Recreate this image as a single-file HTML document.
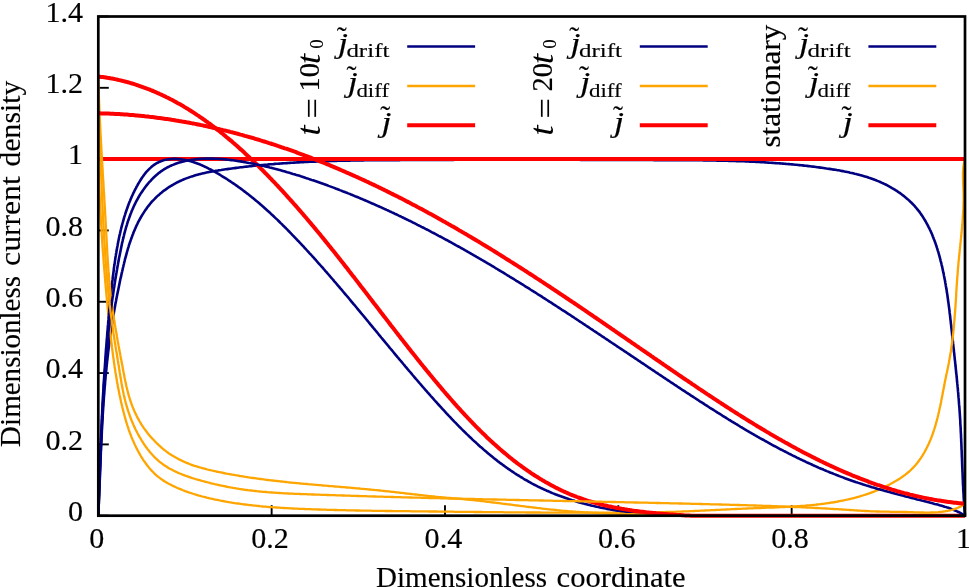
<!DOCTYPE html>
<html><head><meta charset="utf-8"><title>Dimensionless current density</title>
<style>
html,body{margin:0;padding:0;background:#fff;}
svg{display:block;}
text{font-family:"Liberation Serif",serif;font-size:28.5px;fill:#000;stroke:#000;stroke-width:0.15px;}
.it{font-style:italic;}
.sub{font-size:19px;font-style:normal;}
.tl{font-size:30px;}
.itb{font-style:italic;font-size:33px;stroke:none;}
.eq{font-size:31px;}
</style></head><body>
<svg width="969" height="587" viewBox="0 0 969 587">
<rect width="969" height="587" fill="#fff"/>
<g stroke="#000" stroke-width="1.9" fill="none">
<path d="M98.30,515.70 V505.20"/>
<path d="M271.64,515.70 V505.20"/>
<path d="M444.98,515.70 V505.20"/>
<path d="M618.32,515.70 V505.20"/>
<path d="M791.66,515.70 V505.20"/>
<path d="M965.00,515.70 V505.20"/>
<path d="M98.30,515.70 H108.80"/>
<path d="M98.30,444.39 H108.80"/>
<path d="M98.30,373.07 H108.80"/>
<path d="M98.30,301.76 H108.80"/>
<path d="M98.30,230.44 H108.80"/>
<path d="M98.30,159.13 H108.80"/>
<path d="M98.30,87.81 H108.80"/>
<path d="M98.30,16.50 H108.80"/>
</g>
<g fill="none" stroke-linejoin="round" stroke-linecap="butt">
<path d="M98.3,515.7 L98.4,514.2 L98.4,512.7 L98.5,511.2 L98.6,509.7 L98.6,508.2 L98.7,506.7 L98.7,505.2 L98.8,503.7 L98.9,502.2 L98.9,500.7 L99.0,499.2 L99.0,497.7 L99.1,496.2 L99.2,494.7 L99.2,493.2 L99.3,491.8 L99.3,490.3 L99.4,488.8 L99.5,487.3 L99.5,485.8 L99.6,484.3 L99.6,482.8 L99.7,481.3 L99.8,479.8 L99.8,478.3 L99.9,476.8 L99.9,475.3 L100.0,473.8 L100.0,472.3 L100.1,470.8 L100.2,469.3 L100.2,467.8 L100.3,466.3 L100.3,464.8 L100.4,463.3 L100.5,461.8 L100.5,460.3 L100.6,458.8 L100.7,457.3 L100.7,455.8 L100.8,454.3 L100.8,452.8 L100.9,451.3 L101.0,449.8 L101.0,448.3 L101.1,446.8 L101.2,445.3 L101.2,443.8 L101.3,442.3 L101.4,440.8 L101.5,439.3 L101.5,437.8 L101.6,436.3 L101.7,434.8 L101.8,433.3 L101.8,431.8 L101.9,430.3 L102.0,428.8 L102.1,427.3 L102.1,425.8 L102.2,424.3 L102.3,422.8 L102.4,421.3 L102.5,419.8 L102.6,418.3 L102.7,416.8 L102.7,415.3 L102.8,413.8 L102.9,412.3 L103.0,410.8 L103.1,409.3 L103.2,407.8 L103.3,406.3 L103.4,404.8 L103.5,403.3 L103.6,401.8 L103.7,400.3 L103.8,398.8 L103.9,397.3 L104.0,395.8 L104.2,394.3 L104.3,392.8 L104.4,391.3 L104.5,389.8 L104.6,388.3 L104.7,386.9 L104.9,385.4 L105.0,383.9 L105.1,382.4 L105.2,380.9 L105.4,379.4 L105.5,377.9 L105.6,376.4 L105.8,374.9 L105.9,373.4 L106.1,371.9 L106.2,370.4 L106.4,368.9 L106.5,367.4 L106.7,365.9 L106.8,364.5 L107.0,363.0 L107.1,361.5 L107.3,360.0 L107.5,358.5 L107.6,357.0 L107.8,355.5 L108.0,354.0 L108.1,352.5 L108.3,351.0 L108.5,349.6 L108.7,348.1 L108.9,346.6 L109.0,345.1 L109.2,343.6 L109.4,342.1 L109.6,340.6 L109.8,339.1 L110.0,337.7 L110.2,336.2 L110.4,334.7 L110.6,333.2 L110.9,331.7 L111.1,330.2 L111.3,328.8 L111.5,327.3 L111.7,325.8 L112.0,324.3 L112.2,322.8 L112.4,321.4 L112.7,319.9 L112.9,318.4 L113.2,316.9 L113.4,315.4 L113.7,314.0 L113.9,312.5 L114.2,311.0 L114.4,309.5 L114.7,308.0 L115.0,306.6 L115.2,305.1 L115.5,303.6 L115.8,302.1 L116.1,300.7 L116.3,299.2 L116.6,297.7 L116.9,296.3 L117.2,294.8 L117.5,293.3 L117.8,291.8 L118.1,290.4 L118.4,288.9 L118.7,287.4 L119.0,286.0 L119.3,284.5 L119.6,283.0 L119.9,281.6 L120.2,280.1 L120.5,278.6 L120.9,277.2 L121.2,275.7 L121.5,274.3 L121.8,272.8 L122.2,271.3 L122.5,269.9 L122.8,268.4 L123.2,267.0 L123.5,265.5 L123.9,264.1 L124.2,262.6 L124.6,261.1 L124.9,259.7 L125.3,258.2 L125.7,256.8 L126.1,255.3 L126.5,253.9 L126.9,252.4 L127.3,251.0 L127.7,249.5 L128.1,248.1 L128.6,246.6 L129.0,245.2 L129.5,243.7 L130.0,242.3 L130.5,240.8 L131.0,239.4 L131.5,238.0 L132.0,236.6 L132.5,235.2 L133.1,233.7 L133.6,232.3 L134.2,230.9 L134.8,229.6 L135.4,228.2 L136.0,226.8 L136.6,225.4 L137.3,224.1 L137.9,222.7 L138.6,221.4 L139.3,220.1 L140.0,218.8 L140.8,217.5 L141.5,216.2 L142.3,214.9 L143.1,213.6 L143.9,212.4 L144.7,211.1 L145.5,209.9 L146.4,208.7 L147.2,207.5 L148.1,206.3 L149.1,205.1 L150.0,204.0 L150.9,202.9 L151.9,201.7 L152.9,200.6 L154.0,199.6 L155.0,198.5 L156.1,197.4 L157.1,196.4 L158.2,195.4 L159.4,194.4 L160.5,193.4 L161.7,192.5 L162.8,191.6 L164.0,190.6 L165.2,189.8 L166.5,188.9 L167.7,188.0 L168.9,187.2 L170.2,186.4 L171.5,185.6 L172.8,184.8 L174.1,184.1 L175.4,183.4 L176.7,182.7 L178.0,182.0 L179.4,181.3 L180.7,180.7 L182.1,180.1 L183.5,179.5 L184.9,178.9 L186.3,178.4 L187.7,177.9 L189.1,177.4 L190.5,176.9 L191.9,176.4 L193.3,176.0 L194.7,175.5 L196.2,175.1 L197.6,174.7 L199.1,174.3 L200.5,173.9 L202.0,173.6 L203.4,173.2 L204.9,172.9 L206.4,172.6 L207.9,172.3 L209.3,172.0 L210.8,171.7 L212.3,171.4 L213.8,171.2 L215.3,170.9 L216.8,170.7 L218.3,170.4 L219.8,170.2 L221.2,170.0 L222.7,169.7 L224.2,169.5 L225.7,169.3 L227.2,169.1 L228.7,168.9 L230.2,168.7 L231.7,168.5 L233.2,168.3 L234.7,168.1 L236.2,167.9 L237.7,167.7 L239.2,167.5 L240.7,167.3 L242.1,167.2 L243.6,167.0 L245.1,166.8 L246.6,166.6 L248.1,166.5 L249.6,166.3 L251.1,166.2 L252.6,166.0 L254.1,165.8 L255.6,165.7 L257.0,165.5 L258.5,165.4 L260.0,165.2 L261.5,165.1 L263.0,165.0 L264.5,164.8 L266.0,164.7 L267.5,164.6 L269.0,164.4 L270.5,164.3 L271.9,164.2 L273.4,164.1 L274.9,163.9 L276.4,163.8 L277.9,163.7 L279.4,163.6 L280.9,163.5 L282.4,163.4 L283.9,163.3 L285.4,163.2 L286.9,163.1 L288.4,163.0 L289.9,162.9 L291.3,162.8 L292.8,162.7 L294.3,162.6 L295.8,162.5 L297.3,162.4 L298.8,162.4 L300.3,162.3 L301.8,162.2 L303.3,162.1 L304.8,162.0 L306.3,162.0 L307.8,161.9 L309.3,161.8 L310.8,161.8 L312.3,161.7 L313.8,161.6 L315.3,161.6 L316.8,161.5 L318.3,161.5 L319.8,161.4 L321.3,161.3 L322.8,161.3 L324.3,161.2 L325.8,161.2 L327.3,161.1 L328.8,161.1 L330.2,161.0 L331.7,161.0 L333.2,161.0 L334.7,160.9 L336.2,160.9 L337.7,160.8 L339.2,160.8 L340.7,160.8 L342.2,160.7 L343.7,160.7 L345.2,160.7 L346.7,160.6 L348.2,160.6 L349.7,160.6 L351.2,160.5 L352.7,160.5 L354.2,160.5 L355.7,160.5 L357.2,160.4 L358.7,160.4 L360.2,160.4 L361.7,160.4 L363.2,160.4 L364.7,160.3 L366.2,160.3 L367.7,160.3 L369.2,160.3 L370.7,160.3 L372.2,160.2 L373.7,160.2 L375.2,160.2 L376.7,160.2 L378.2,160.2 L379.7,160.2 L381.2,160.2 L382.7,160.2 L384.2,160.1 L385.7,160.1 L387.3,160.1 L388.8,160.1 L390.3,160.1 L391.8,160.1 L393.3,160.1 L394.8,160.1 L396.3,160.1 L397.8,160.1 L399.3,160.1 L400.8,160.0 L402.3,160.0 L403.8,160.0 L405.3,160.0 L406.8,160.0 L408.3,160.0 L409.8,160.0 L411.3,160.0 L412.8,160.0 L414.3,160.0 L415.8,160.0 L417.3,160.0 L418.8,160.0 L420.3,160.0 L421.8,160.0 L423.3,159.9 L424.8,159.9 L426.3,159.9 L427.8,159.9 L429.3,159.9 L430.8,159.9 L432.3,159.9 L433.8,159.9 L435.3,159.9 L436.8,159.9 L438.3,159.9 L439.8,159.9 L441.3,159.9 L442.8,159.9 L444.3,159.9 L445.8,159.9 L447.3,159.9 L448.8,159.9 L450.3,159.9 L451.8,159.9 L453.3,159.9 L454.8,159.8 L456.3,159.8 L457.8,159.8 L459.3,159.8 L460.8,159.8 L462.3,159.8 L463.8,159.8 L465.3,159.8 L466.8,159.8 L468.3,159.8 L469.8,159.8 L471.3,159.8 L472.8,159.8 L474.3,159.8 L475.8,159.8 L477.3,159.8 L478.8,159.8 L480.3,159.8 L481.8,159.8 L483.3,159.8 L484.8,159.8 L486.3,159.8 L487.8,159.8 L489.3,159.8 L490.8,159.8 L492.3,159.8 L493.8,159.8 L495.3,159.8 L496.8,159.8 L498.3,159.8 L499.8,159.8 L501.3,159.8 L502.8,159.8 L504.3,159.8 L505.8,159.8 L507.3,159.8 L508.8,159.8 L510.3,159.8 L511.8,159.8 L513.3,159.8 L514.8,159.8 L516.3,159.8 L517.8,159.8 L519.3,159.8 L520.8,159.8 L522.3,159.8 L523.8,159.8 L525.3,159.8 L526.9,159.8 L528.4,159.8 L529.9,159.8 L531.4,159.8 L532.9,159.8 L534.4,159.8 L535.9,159.8 L537.4,159.8 L538.9,159.8 L540.4,159.8 L541.9,159.8 L543.4,159.8 L544.9,159.8 L546.4,159.8 L547.9,159.8 L549.4,159.8 L550.9,159.8 L552.4,159.8 L553.9,159.8 L555.4,159.8 L556.9,159.8 L558.4,159.8 L559.9,159.8 L561.4,159.8 L562.9,159.8 L564.4,159.8 L565.9,159.8 L567.4,159.8 L568.9,159.8 L570.4,159.8 L571.9,159.8 L573.4,159.8 L574.9,159.8 L576.4,159.8 L577.9,159.8 L579.4,159.8 L580.9,159.9 L582.4,159.9 L583.9,159.9 L585.4,159.9 L586.9,159.9 L588.4,159.9 L589.9,159.9 L591.3,159.9 L592.8,159.9 L594.3,159.9 L595.8,159.9 L597.3,159.9 L598.8,159.9 L600.3,159.9 L601.8,159.9 L603.3,159.9 L604.8,159.9 L606.3,159.9 L607.8,159.9 L609.3,159.9 L610.8,159.9 L612.3,159.9 L613.8,159.9 L615.3,159.9 L616.8,159.9 L618.3,159.9 L619.8,159.9 L621.3,160.0 L622.8,160.0 L624.3,160.0 L625.8,160.0 L627.3,160.0 L628.8,160.0 L630.3,160.0 L631.8,160.0 L633.3,160.0 L634.8,160.0 L636.3,160.0 L637.8,160.0 L639.3,160.0 L640.8,160.0 L642.3,160.0 L643.8,160.0 L645.3,160.0 L646.8,160.0 L648.3,160.0 L649.8,160.0 L651.3,160.0 L652.8,160.0 L654.3,160.1 L655.8,160.1 L657.3,160.1 L658.8,160.1 L660.3,160.1 L661.8,160.1 L663.3,160.1 L664.8,160.1 L666.3,160.1 L667.8,160.1 L669.3,160.1 L670.8,160.1 L672.3,160.1 L673.8,160.1 L675.3,160.1 L676.8,160.1 L678.3,160.1 L679.8,160.1 L681.3,160.2 L682.7,160.2 L684.2,160.2 L685.7,160.2 L687.2,160.2 L688.7,160.2 L690.2,160.2 L691.7,160.2 L693.2,160.2 L694.7,160.3 L696.2,160.3 L697.7,160.3 L699.2,160.3 L700.7,160.3 L702.2,160.3 L703.7,160.4 L705.2,160.4 L706.7,160.4 L708.2,160.4 L709.7,160.4 L711.2,160.5 L712.7,160.5 L714.2,160.5 L715.7,160.5 L717.2,160.6 L718.7,160.6 L720.2,160.6 L721.7,160.7 L723.2,160.7 L724.7,160.7 L726.2,160.8 L727.7,160.8 L729.1,160.9 L730.6,160.9 L732.1,160.9 L733.6,161.0 L735.1,161.0 L736.6,161.1 L738.1,161.1 L739.6,161.2 L741.1,161.2 L742.6,161.3 L744.1,161.3 L745.6,161.4 L747.1,161.5 L748.6,161.5 L750.1,161.6 L751.6,161.7 L753.1,161.7 L754.6,161.8 L756.1,161.9 L757.6,162.0 L759.1,162.0 L760.6,162.1 L762.1,162.2 L763.6,162.3 L765.1,162.4 L766.6,162.5 L768.1,162.6 L769.6,162.7 L771.0,162.8 L772.5,162.9 L774.0,163.0 L775.5,163.1 L777.0,163.2 L778.5,163.3 L780.0,163.4 L781.5,163.5 L783.0,163.6 L784.5,163.7 L786.0,163.9 L787.5,164.0 L789.0,164.1 L790.5,164.3 L792.0,164.4 L793.5,164.5 L795.0,164.7 L796.5,164.8 L798.0,165.0 L799.5,165.1 L801.0,165.3 L802.5,165.4 L804.0,165.6 L805.5,165.8 L807.0,165.9 L808.5,166.1 L810.0,166.3 L811.5,166.5 L812.9,166.6 L814.4,166.8 L815.9,167.0 L817.4,167.2 L818.9,167.4 L820.4,167.6 L821.9,167.8 L823.4,168.0 L824.9,168.2 L826.4,168.5 L827.9,168.7 L829.4,168.9 L830.9,169.1 L832.4,169.4 L833.9,169.6 L835.4,169.8 L836.9,170.1 L838.4,170.3 L839.9,170.6 L841.4,170.9 L842.8,171.1 L844.3,171.4 L845.8,171.7 L847.3,172.0 L848.8,172.3 L850.2,172.7 L851.7,173.0 L853.2,173.3 L854.6,173.7 L856.1,174.0 L857.6,174.4 L859.0,174.8 L860.5,175.2 L861.9,175.6 L863.3,176.0 L864.8,176.4 L866.2,176.8 L867.6,177.3 L869.0,177.8 L870.5,178.2 L871.9,178.7 L873.3,179.2 L874.7,179.8 L876.0,180.3 L877.4,180.9 L878.8,181.4 L880.2,182.0 L881.5,182.6 L882.9,183.2 L884.2,183.9 L885.6,184.5 L886.9,185.2 L888.2,185.9 L889.5,186.6 L890.8,187.3 L892.1,188.1 L893.4,188.8 L894.7,189.6 L895.9,190.4 L897.2,191.2 L898.4,192.1 L899.7,192.9 L900.9,193.8 L902.1,194.7 L903.3,195.6 L904.4,196.5 L905.6,197.5 L906.7,198.4 L907.9,199.4 L909.0,200.4 L910.1,201.5 L911.2,202.5 L912.2,203.5 L913.3,204.6 L914.3,205.7 L915.3,206.8 L916.3,208.0 L917.2,209.1 L918.2,210.3 L919.1,211.4 L920.0,212.6 L920.8,213.9 L921.7,215.1 L922.5,216.3 L923.3,217.6 L924.1,218.9 L924.9,220.2 L925.7,221.5 L926.4,222.8 L927.1,224.1 L927.8,225.4 L928.5,226.8 L929.2,228.1 L929.8,229.5 L930.5,230.8 L931.1,232.2 L931.7,233.6 L932.3,235.0 L932.8,236.4 L933.4,237.8 L933.9,239.2 L934.5,240.6 L935.0,242.0 L935.5,243.4 L936.0,244.9 L936.5,246.3 L936.9,247.7 L937.4,249.2 L937.8,250.6 L938.3,252.0 L938.7,253.5 L939.1,254.9 L939.5,256.4 L939.9,257.8 L940.3,259.3 L940.6,260.8 L941.0,262.2 L941.4,263.7 L941.7,265.1 L942.1,266.6 L942.4,268.0 L942.7,269.5 L943.0,271.0 L943.3,272.4 L943.7,273.9 L943.9,275.4 L944.2,276.8 L944.5,278.3 L944.8,279.8 L945.1,281.3 L945.3,282.7 L945.6,284.2 L945.8,285.7 L946.1,287.2 L946.3,288.6 L946.6,290.1 L946.8,291.6 L947.0,293.1 L947.3,294.5 L947.5,296.0 L947.7,297.5 L947.9,299.0 L948.1,300.5 L948.3,302.0 L948.5,303.4 L948.7,304.9 L948.9,306.4 L949.1,307.9 L949.3,309.4 L949.5,310.9 L949.6,312.4 L949.8,313.9 L950.0,315.3 L950.2,316.8 L950.3,318.3 L950.5,319.8 L950.7,321.3 L950.8,322.8 L951.0,324.3 L951.2,325.8 L951.3,327.3 L951.5,328.8 L951.7,330.2 L951.8,331.7 L952.0,333.2 L952.1,334.7 L952.3,336.2 L952.5,337.7 L952.6,339.2 L952.8,340.7 L953.0,342.2 L953.1,343.7 L953.3,345.2 L953.4,346.6 L953.6,348.1 L953.8,349.6 L953.9,351.1 L954.1,352.6 L954.3,354.1 L954.4,355.6 L954.6,357.1 L954.7,358.6 L954.9,360.1 L955.1,361.6 L955.2,363.1 L955.4,364.5 L955.5,366.0 L955.7,367.5 L955.8,369.0 L956.0,370.5 L956.1,372.0 L956.3,373.5 L956.5,375.0 L956.6,376.5 L956.8,378.0 L956.9,379.5 L957.0,381.0 L957.2,382.5 L957.3,383.9 L957.5,385.4 L957.6,386.9 L957.8,388.4 L957.9,389.9 L958.0,391.4 L958.2,392.9 L958.3,394.4 L958.4,395.9 L958.5,397.4 L958.7,398.9 L958.8,400.4 L958.9,401.9 L959.0,403.4 L959.1,404.9 L959.3,406.4 L959.4,407.9 L959.5,409.4 L959.6,410.8 L959.7,412.3 L959.8,413.8 L959.9,415.3 L960.0,416.8 L960.1,418.3 L960.2,419.8 L960.3,421.3 L960.3,422.8 L960.4,424.3 L960.5,425.8 L960.6,427.3 L960.7,428.8 L960.7,430.3 L960.8,431.8 L960.9,433.3 L961.0,434.8 L961.0,436.3 L961.1,437.8 L961.2,439.3 L961.2,440.8 L961.3,442.3 L961.4,443.8 L961.4,445.3 L961.5,446.8 L961.5,448.3 L961.6,449.8 L961.7,451.3 L961.7,452.8 L961.8,454.3 L961.8,455.8 L961.9,457.3 L962.0,458.8 L962.0,460.3 L962.1,461.8 L962.1,463.3 L962.2,464.8 L962.2,466.3 L962.3,467.8 L962.4,469.3 L962.4,470.8 L962.5,472.3 L962.6,473.8 L962.6,475.3 L962.7,476.8 L962.7,478.3 L962.8,479.8 L962.9,481.3 L962.9,482.8 L963.0,484.3 L963.1,485.8 L963.2,487.3 L963.2,488.8 L963.3,490.3 L963.4,491.8 L963.5,493.3 L963.6,494.8 L963.6,496.3 L963.7,497.7 L963.8,499.2 L963.9,500.7 L964.0,502.2 L964.1,503.7 L964.2,505.2 L964.3,506.7 L964.4,508.2 L964.5,509.7 L964.6,511.2 L964.8,512.7 L964.9,514.2 L965.0,515.7" stroke="#000080" stroke-width="2.6"/>
<path d="M98.3,159.1 L98.3,160.6 L98.4,162.1 L98.4,163.6 L98.5,165.1 L98.5,166.6 L98.6,168.1 L98.6,169.6 L98.7,171.1 L98.7,172.6 L98.8,174.1 L98.8,175.6 L98.9,177.1 L98.9,178.6 L99.0,180.1 L99.1,181.6 L99.1,183.1 L99.2,184.6 L99.2,186.1 L99.3,187.6 L99.4,189.1 L99.4,190.6 L99.5,192.1 L99.6,193.6 L99.6,195.1 L99.7,196.5 L99.8,198.0 L99.8,199.5 L99.9,201.0 L100.0,202.5 L100.1,204.0 L100.1,205.5 L100.2,207.0 L100.3,208.5 L100.4,210.0 L100.4,211.5 L100.5,213.0 L100.6,214.5 L100.7,216.0 L100.8,217.5 L100.8,219.0 L100.9,220.5 L101.0,222.0 L101.1,223.5 L101.2,225.0 L101.3,226.5 L101.4,228.0 L101.5,229.5 L101.6,231.0 L101.6,232.5 L101.7,234.0 L101.8,235.5 L101.9,237.0 L102.0,238.5 L102.1,240.0 L102.2,241.5 L102.3,242.9 L102.4,244.4 L102.5,245.9 L102.6,247.4 L102.7,248.9 L102.8,250.4 L102.9,251.9 L103.1,253.4 L103.2,254.9 L103.3,256.4 L103.4,257.9 L103.5,259.4 L103.6,260.9 L103.7,262.4 L103.8,263.9 L104.0,265.4 L104.1,266.9 L104.2,268.4 L104.3,269.9 L104.4,271.4 L104.6,272.8 L104.7,274.3 L104.8,275.8 L104.9,277.3 L105.1,278.8 L105.2,280.3 L105.3,281.8 L105.4,283.3 L105.6,284.8 L105.7,286.3 L105.8,287.8 L106.0,289.3 L106.1,290.8 L106.2,292.3 L106.4,293.8 L106.5,295.3 L106.6,296.7 L106.8,298.2 L106.9,299.7 L107.1,301.2 L107.2,302.7 L107.4,304.2 L107.5,305.7 L107.6,307.2 L107.8,308.7 L107.9,310.2 L108.1,311.7 L108.2,313.2 L108.4,314.6 L108.5,316.1 L108.7,317.6 L108.9,319.1 L109.0,320.6 L109.2,322.1 L109.3,323.6 L109.5,325.1 L109.6,326.6 L109.8,328.1 L110.0,329.6 L110.1,331.0 L110.3,332.5 L110.5,334.0 L110.6,335.5 L110.8,337.0 L111.0,338.5 L111.1,340.0 L111.3,341.5 L111.5,343.0 L111.7,344.5 L111.9,345.9 L112.0,347.4 L112.2,348.9 L112.4,350.4 L112.6,351.9 L112.8,353.4 L113.0,354.9 L113.2,356.3 L113.4,357.8 L113.6,359.3 L113.8,360.8 L114.0,362.3 L114.2,363.8 L114.4,365.2 L114.6,366.7 L114.9,368.2 L115.1,369.7 L115.3,371.2 L115.5,372.7 L115.8,374.1 L116.0,375.6 L116.3,377.1 L116.5,378.6 L116.8,380.0 L117.0,381.5 L117.3,383.0 L117.6,384.5 L117.8,385.9 L118.1,387.4 L118.4,388.9 L118.7,390.4 L119.0,391.8 L119.2,393.3 L119.5,394.8 L119.9,396.2 L120.2,397.7 L120.5,399.2 L120.8,400.6 L121.1,402.1 L121.5,403.6 L121.8,405.0 L122.1,406.5 L122.5,407.9 L122.9,409.4 L123.2,410.9 L123.6,412.3 L124.0,413.8 L124.4,415.2 L124.8,416.7 L125.2,418.1 L125.6,419.6 L126.0,421.0 L126.4,422.4 L126.9,423.9 L127.3,425.3 L127.8,426.7 L128.3,428.2 L128.7,429.6 L129.2,431.0 L129.7,432.4 L130.3,433.8 L130.8,435.2 L131.3,436.6 L131.9,438.0 L132.5,439.4 L133.1,440.7 L133.7,442.1 L134.3,443.5 L134.9,444.8 L135.6,446.2 L136.2,447.5 L136.9,448.9 L137.6,450.2 L138.3,451.5 L139.0,452.9 L139.8,454.2 L140.5,455.5 L141.3,456.8 L142.1,458.0 L142.9,459.3 L143.7,460.6 L144.6,461.8 L145.5,463.0 L146.4,464.3 L147.3,465.5 L148.2,466.6 L149.1,467.8 L150.1,468.9 L151.1,470.1 L152.1,471.1 L153.2,472.2 L154.2,473.3 L155.3,474.3 L156.4,475.3 L157.6,476.3 L158.7,477.2 L159.9,478.1 L161.1,479.0 L162.3,479.8 L163.6,480.7 L164.8,481.5 L166.1,482.2 L167.4,483.0 L168.7,483.7 L170.1,484.4 L171.4,485.1 L172.7,485.7 L174.1,486.4 L175.4,487.0 L176.8,487.7 L178.2,488.3 L179.6,488.8 L181.0,489.4 L182.3,490.0 L183.7,490.5 L185.1,491.1 L186.6,491.6 L188.0,492.1 L189.4,492.6 L190.8,493.0 L192.2,493.5 L193.7,494.0 L195.1,494.4 L196.6,494.8 L198.0,495.3 L199.4,495.7 L200.9,496.1 L202.4,496.5 L203.8,496.8 L205.3,497.2 L206.7,497.6 L208.2,497.9 L209.7,498.3 L211.1,498.6 L212.6,498.9 L214.1,499.3 L215.5,499.6 L217.0,499.9 L218.5,500.2 L219.9,500.5 L221.4,500.8 L222.9,501.0 L224.4,501.3 L225.8,501.6 L227.3,501.8 L228.8,502.1 L230.3,502.3 L231.7,502.6 L233.2,502.8 L234.7,503.1 L236.2,503.3 L237.7,503.5 L239.1,503.7 L240.6,503.9 L242.1,504.1 L243.6,504.3 L245.1,504.5 L246.6,504.7 L248.0,504.9 L249.5,505.1 L251.0,505.2 L252.5,505.4 L254.0,505.6 L255.5,505.7 L257.0,505.9 L258.5,506.0 L260.0,506.2 L261.4,506.3 L262.9,506.5 L264.4,506.6 L265.9,506.7 L267.4,506.8 L268.9,507.0 L270.4,507.1 L271.9,507.2 L273.4,507.3 L274.9,507.4 L276.4,507.5 L277.9,507.6 L279.4,507.7 L280.9,507.8 L282.3,507.9 L283.8,508.0 L285.3,508.1 L286.8,508.2 L288.3,508.2 L289.8,508.3 L291.3,508.4 L292.8,508.5 L294.3,508.6 L295.8,508.6 L297.3,508.7 L298.8,508.8 L300.3,508.8 L301.8,508.9 L303.3,508.9 L304.8,509.0 L306.3,509.1 L307.8,509.1 L309.3,509.2 L310.8,509.2 L312.3,509.3 L313.8,509.3 L315.3,509.4 L316.8,509.4 L318.3,509.5 L319.8,509.5 L321.3,509.6 L322.8,509.6 L324.3,509.7 L325.8,509.7 L327.3,509.8 L328.8,509.8 L330.3,509.9 L331.8,509.9 L333.3,509.9 L334.8,510.0 L336.3,510.0 L337.8,510.1 L339.3,510.1 L340.8,510.1 L342.3,510.2 L343.8,510.2 L345.3,510.2 L346.8,510.3 L348.3,510.3 L349.8,510.3 L351.3,510.4 L352.8,510.4 L354.3,510.4 L355.8,510.5 L357.3,510.5 L358.8,510.5 L360.3,510.6 L361.8,510.6 L363.3,510.6 L364.8,510.6 L366.3,510.7 L367.8,510.7 L369.3,510.7 L370.8,510.7 L372.3,510.8 L373.8,510.8 L375.3,510.8 L376.8,510.8 L378.3,510.8 L379.8,510.9 L381.3,510.9 L382.7,510.9 L384.2,510.9 L385.7,511.0 L387.2,511.0 L388.7,511.0 L390.2,511.0 L391.7,511.0 L393.2,511.1 L394.7,511.1 L396.2,511.1 L397.7,511.1 L399.2,511.1 L400.7,511.1 L402.2,511.2 L403.7,511.2 L405.2,511.2 L406.7,511.2 L408.2,511.2 L409.7,511.2 L411.2,511.3 L412.7,511.3 L414.2,511.3 L415.7,511.3 L417.2,511.3 L418.7,511.3 L420.2,511.4 L421.7,511.4 L423.2,511.4 L424.7,511.4 L426.2,511.4 L427.7,511.4 L429.2,511.5 L430.7,511.5 L432.2,511.5 L433.7,511.5 L435.2,511.5 L436.7,511.5 L438.2,511.6 L439.7,511.6 L441.2,511.6 L442.7,511.6 L444.2,511.6 L445.7,511.7 L447.2,511.7 L448.7,511.7 L450.2,511.7 L451.7,511.7 L453.2,511.7 L454.7,511.8 L456.2,511.8 L457.7,511.8 L459.2,511.8 L460.7,511.8 L462.2,511.8 L463.7,511.9 L465.2,511.9 L466.7,511.9 L468.2,511.9 L469.7,511.9 L471.2,511.9 L472.7,511.9 L474.2,512.0 L475.7,512.0 L477.2,512.0 L478.7,512.0 L480.2,512.0 L481.7,512.0 L483.2,512.1 L484.7,512.1 L486.2,512.1 L487.7,512.1 L489.2,512.1 L490.7,512.1 L492.2,512.1 L493.7,512.2 L495.2,512.2 L496.7,512.2 L498.2,512.2 L499.7,512.2 L501.2,512.2 L502.7,512.2 L504.2,512.3 L505.7,512.3 L507.2,512.3 L508.7,512.3 L510.2,512.3 L511.6,512.3 L513.1,512.3 L514.6,512.4 L516.1,512.4 L517.6,512.4 L519.1,512.4 L520.6,512.4 L522.1,512.4 L523.6,512.4 L525.1,512.4 L526.6,512.5 L528.1,512.5 L529.6,512.5 L531.1,512.5 L532.6,512.5 L534.1,512.5 L535.6,512.5 L537.1,512.5 L538.6,512.5 L540.1,512.5 L541.6,512.6 L543.1,512.6 L544.6,512.6 L546.1,512.6 L547.6,512.6 L549.1,512.6 L550.6,512.6 L552.1,512.6 L553.6,512.6 L555.1,512.6 L556.6,512.6 L558.1,512.7 L559.6,512.7 L561.1,512.7 L562.6,512.7 L564.1,512.7 L565.6,512.7 L567.1,512.7 L568.6,512.7 L570.1,512.7 L571.6,512.7 L573.1,512.7 L574.6,512.7 L576.1,512.7 L577.6,512.7 L579.1,512.7 L580.6,512.7 L582.1,512.7 L583.6,512.7 L585.1,512.7 L586.6,512.7 L588.1,512.7 L589.6,512.7 L591.1,512.7 L592.6,512.7 L594.1,512.7 L595.6,512.7 L597.1,512.7 L598.6,512.7 L600.1,512.7 L601.6,512.7 L603.1,512.7 L604.6,512.7 L606.1,512.7 L607.6,512.7 L609.1,512.7 L610.6,512.7 L612.1,512.7 L613.6,512.7 L615.1,512.7 L616.6,512.7 L618.1,512.7 L619.6,512.7 L621.1,512.7 L622.6,512.7 L624.1,512.7 L625.6,512.7 L627.1,512.7 L628.6,512.6 L630.1,512.6 L631.6,512.6 L633.1,512.6 L634.6,512.6 L636.1,512.6 L637.6,512.6 L639.1,512.5 L640.6,512.5 L642.1,512.5 L643.6,512.5 L645.1,512.5 L646.6,512.4 L648.1,512.4 L649.6,512.4 L651.1,512.4 L652.6,512.3 L654.1,512.3 L655.6,512.3 L657.1,512.3 L658.6,512.2 L660.1,512.2 L661.6,512.2 L663.1,512.1 L664.6,512.1 L666.1,512.0 L667.6,512.0 L669.1,512.0 L670.6,511.9 L672.1,511.9 L673.6,511.8 L675.0,511.8 L676.5,511.7 L678.0,511.7 L679.5,511.6 L681.0,511.6 L682.5,511.5 L684.0,511.4 L685.5,511.4 L687.0,511.3 L688.5,511.3 L690.0,511.2 L691.5,511.1 L693.0,511.1 L694.5,511.0 L696.0,510.9 L697.5,510.9 L699.0,510.8 L700.5,510.7 L702.0,510.7 L703.5,510.6 L705.0,510.5 L706.5,510.4 L708.0,510.4 L709.5,510.3 L711.0,510.2 L712.5,510.2 L714.0,510.1 L715.4,510.0 L716.9,509.9 L718.4,509.9 L719.9,509.8 L721.4,509.7 L722.9,509.6 L724.4,509.6 L725.9,509.5 L727.4,509.4 L728.9,509.3 L730.4,509.3 L731.9,509.2 L733.4,509.1 L734.9,509.0 L736.4,509.0 L737.9,508.9 L739.4,508.8 L740.9,508.8 L742.4,508.7 L743.9,508.6 L745.4,508.6 L746.9,508.5 L748.4,508.4 L749.9,508.4 L751.4,508.3 L752.9,508.3 L754.4,508.2 L755.9,508.1 L757.4,508.1 L758.9,508.0 L760.4,508.0 L761.9,507.9 L763.4,507.9 L764.9,507.8 L766.4,507.7 L767.9,507.7 L769.4,507.6 L770.9,507.6 L772.4,507.5 L773.9,507.5 L775.4,507.4 L776.9,507.3 L778.4,507.3 L779.9,507.2 L781.4,507.1 L782.9,507.1 L784.4,507.0 L785.9,506.9 L787.4,506.8 L788.9,506.8 L790.4,506.7 L791.9,506.6 L793.4,506.5 L794.9,506.4 L796.4,506.3 L797.9,506.2 L799.4,506.1 L800.9,506.0 L802.4,505.9 L803.9,505.8 L805.4,505.7 L806.8,505.5 L808.3,505.4 L809.8,505.3 L811.3,505.1 L812.8,505.0 L814.3,504.8 L815.8,504.7 L817.3,504.5 L818.8,504.3 L820.2,504.2 L821.7,504.0 L823.2,503.8 L824.7,503.6 L826.2,503.4 L827.7,503.2 L829.1,503.0 L830.6,502.7 L832.1,502.5 L833.6,502.3 L835.1,502.0 L836.5,501.8 L838.0,501.5 L839.5,501.2 L840.9,500.9 L842.4,500.6 L843.9,500.3 L845.3,500.0 L846.8,499.7 L848.3,499.4 L849.7,499.0 L851.2,498.7 L852.6,498.3 L854.1,498.0 L855.5,497.6 L857.0,497.2 L858.4,496.8 L859.8,496.4 L861.3,495.9 L862.7,495.5 L864.1,495.0 L865.5,494.6 L867.0,494.1 L868.4,493.6 L869.8,493.1 L871.2,492.6 L872.6,492.1 L874.0,491.6 L875.4,491.0 L876.8,490.4 L878.2,489.9 L879.6,489.3 L881.0,488.7 L882.3,488.0 L883.7,487.4 L885.1,486.8 L886.4,486.1 L887.8,485.4 L889.1,484.7 L890.5,484.0 L891.8,483.3 L893.1,482.6 L894.4,481.8 L895.7,481.1 L897.0,480.3 L898.3,479.5 L899.6,478.7 L900.8,477.9 L902.1,477.0 L903.3,476.1 L904.5,475.3 L905.7,474.4 L906.9,473.4 L908.0,472.5 L909.2,471.5 L910.3,470.5 L911.3,469.5 L912.4,468.4 L913.4,467.4 L914.4,466.3 L915.4,465.2 L916.4,464.0 L917.3,462.9 L918.2,461.7 L919.1,460.5 L919.9,459.3 L920.8,458.1 L921.6,456.8 L922.4,455.6 L923.2,454.3 L924.0,453.0 L924.7,451.7 L925.4,450.4 L926.1,449.1 L926.8,447.7 L927.5,446.4 L928.1,445.0 L928.8,443.7 L929.4,442.3 L930.0,440.9 L930.6,439.5 L931.1,438.1 L931.7,436.7 L932.2,435.3 L932.7,433.8 L933.2,432.4 L933.7,431.0 L934.2,429.5 L934.6,428.1 L935.1,426.7 L935.5,425.2 L935.9,423.8 L936.3,422.3 L936.7,420.9 L937.1,419.4 L937.5,418.0 L937.8,416.5 L938.2,415.1 L938.5,413.6 L938.9,412.1 L939.2,410.7 L939.5,409.2 L939.8,407.8 L940.2,406.3 L940.5,404.8 L940.8,403.4 L941.1,401.9 L941.3,400.4 L941.6,399.0 L941.9,397.5 L942.2,396.0 L942.5,394.6 L942.8,393.1 L943.0,391.6 L943.3,390.2 L943.6,388.7 L943.9,387.2 L944.2,385.7 L944.5,384.3 L944.7,382.8 L945.0,381.3 L945.3,379.9 L945.6,378.4 L945.9,376.9 L946.2,375.4 L946.5,374.0 L946.9,372.5 L947.2,371.0 L947.5,369.6 L947.8,368.1 L948.1,366.6 L948.4,365.2 L948.7,363.7 L949.0,362.2 L949.2,360.7 L949.5,359.3 L949.8,357.8 L950.0,356.3 L950.3,354.8 L950.5,353.4 L950.8,351.9 L951.0,350.4 L951.2,348.9 L951.4,347.4 L951.6,346.0 L951.9,344.5 L952.0,343.0 L952.2,341.5 L952.4,340.0 L952.6,338.5 L952.8,337.0 L952.9,335.6 L953.1,334.1 L953.3,332.6 L953.4,331.1 L953.6,329.6 L953.7,328.1 L953.9,326.6 L954.0,325.1 L954.1,323.6 L954.2,322.1 L954.4,320.6 L954.5,319.2 L954.6,317.7 L954.7,316.2 L954.8,314.7 L955.0,313.2 L955.1,311.7 L955.2,310.2 L955.3,308.7 L955.4,307.2 L955.5,305.7 L955.6,304.2 L955.7,302.7 L955.8,301.2 L955.9,299.7 L956.0,298.2 L956.1,296.7 L956.2,295.2 L956.2,293.7 L956.3,292.2 L956.4,290.7 L956.5,289.2 L956.6,287.7 L956.7,286.2 L956.8,284.7 L956.9,283.2 L957.0,281.7 L957.1,280.2 L957.2,278.7 L957.3,277.2 L957.4,275.7 L957.6,274.3 L957.7,272.8 L957.8,271.3 L957.9,269.8 L958.0,268.3 L958.1,266.8 L958.3,265.3 L958.4,263.8 L958.5,262.3 L958.7,260.8 L958.8,259.3 L959.0,257.8 L959.1,256.3 L959.3,254.8 L959.4,253.4 L959.6,251.9 L959.7,250.4 L959.9,248.9 L960.0,247.4 L960.2,245.9 L960.3,244.4 L960.5,242.9 L960.7,241.4 L960.8,239.9 L961.0,238.4 L961.1,237.0 L961.3,235.5 L961.4,234.0 L961.6,232.5 L961.7,231.0 L961.9,229.5 L962.0,228.0 L962.1,226.5 L962.3,225.0 L962.4,223.5 L962.5,222.0 L962.6,220.6 L962.7,219.1 L962.8,217.6 L962.9,216.1 L963.0,214.6 L963.1,213.1 L963.2,211.6 L963.3,210.1 L963.4,208.6 L963.4,207.1 L963.5,205.6 L963.5,204.1 L963.5,202.6 L963.6,201.1 L963.6,199.6 L963.6,198.1 L963.6,196.6 L963.6,195.1 L963.6,193.6 L963.5,192.1 L963.5,190.6 L963.4,189.0 L963.4,187.5 L963.3,186.0 L963.2,184.5 L963.2,183.0 L963.1,181.5 L963.1,180.0 L963.0,178.5 L963.0,177.0 L963.0,175.5 L963.0,173.9 L963.0,172.4 L963.1,170.9 L963.2,169.5 L963.3,168.0 L963.5,166.5 L963.7,165.0 L963.9,163.5 L964.2,162.0 L964.6,160.6 L965.0,159.1" stroke="#ffa500" stroke-width="2.3"/>
<path d="M98.3,159.1 L965.0,159.1" stroke="#ff0000" stroke-width="4.0"/>
<path d="M98.3,515.7 L98.3,514.2 L98.4,512.7 L98.4,511.2 L98.5,509.7 L98.5,508.2 L98.6,506.7 L98.6,505.2 L98.7,503.7 L98.7,502.2 L98.7,500.7 L98.8,499.2 L98.8,497.7 L98.9,496.2 L98.9,494.7 L99.0,493.2 L99.0,491.7 L99.1,490.2 L99.1,488.7 L99.2,487.3 L99.2,485.8 L99.3,484.3 L99.3,482.8 L99.4,481.3 L99.4,479.8 L99.5,478.3 L99.5,476.8 L99.6,475.3 L99.6,473.8 L99.7,472.3 L99.7,470.8 L99.8,469.3 L99.8,467.8 L99.9,466.3 L99.9,464.8 L100.0,463.3 L100.0,461.8 L100.1,460.3 L100.2,458.8 L100.2,457.3 L100.3,455.8 L100.3,454.3 L100.4,452.8 L100.4,451.3 L100.5,449.8 L100.6,448.3 L100.6,446.8 L100.7,445.3 L100.7,443.8 L100.8,442.3 L100.9,440.8 L100.9,439.3 L101.0,437.8 L101.1,436.3 L101.1,434.8 L101.2,433.3 L101.3,431.8 L101.3,430.3 L101.4,428.8 L101.5,427.4 L101.5,425.9 L101.6,424.4 L101.7,422.9 L101.7,421.4 L101.8,419.9 L101.9,418.4 L101.9,416.9 L102.0,415.4 L102.1,413.9 L102.2,412.4 L102.2,410.9 L102.3,409.4 L102.4,407.9 L102.5,406.4 L102.5,404.9 L102.6,403.4 L102.7,401.9 L102.8,400.4 L102.9,398.9 L102.9,397.4 L103.0,395.9 L103.1,394.4 L103.2,392.9 L103.3,391.4 L103.4,389.9 L103.5,388.4 L103.5,386.9 L103.6,385.4 L103.7,383.9 L103.8,382.5 L103.9,381.0 L104.0,379.5 L104.1,378.0 L104.2,376.5 L104.3,375.0 L104.4,373.5 L104.5,372.0 L104.6,370.5 L104.7,369.0 L104.8,367.5 L104.9,366.0 L105.0,364.5 L105.1,363.0 L105.2,361.5 L105.3,360.0 L105.4,358.5 L105.5,357.0 L105.6,355.5 L105.7,354.0 L105.8,352.5 L105.9,351.1 L106.0,349.6 L106.1,348.1 L106.3,346.6 L106.4,345.1 L106.5,343.6 L106.6,342.1 L106.7,340.6 L106.8,339.1 L107.0,337.6 L107.1,336.1 L107.2,334.6 L107.3,333.1 L107.4,331.6 L107.6,330.1 L107.7,328.6 L107.8,327.2 L107.9,325.7 L108.1,324.2 L108.2,322.7 L108.3,321.2 L108.5,319.7 L108.6,318.2 L108.7,316.7 L108.9,315.2 L109.0,313.7 L109.2,312.2 L109.3,310.7 L109.4,309.2 L109.6,307.8 L109.7,306.3 L109.9,304.8 L110.0,303.3 L110.2,301.8 L110.3,300.3 L110.5,298.8 L110.6,297.3 L110.8,295.8 L110.9,294.3 L111.1,292.8 L111.2,291.4 L111.4,289.9 L111.6,288.4 L111.7,286.9 L111.9,285.4 L112.0,283.9 L112.2,282.4 L112.4,280.9 L112.6,279.4 L112.7,278.0 L112.9,276.5 L113.1,275.0 L113.3,273.5 L113.5,272.0 L113.7,270.5 L113.8,269.0 L114.0,267.6 L114.2,266.1 L114.5,264.6 L114.7,263.1 L114.9,261.6 L115.1,260.1 L115.3,258.7 L115.5,257.2 L115.8,255.7 L116.0,254.2 L116.3,252.7 L116.5,251.3 L116.8,249.8 L117.0,248.3 L117.3,246.9 L117.6,245.4 L117.8,243.9 L118.1,242.4 L118.4,241.0 L118.7,239.5 L119.0,238.0 L119.3,236.6 L119.6,235.1 L120.0,233.6 L120.3,232.2 L120.6,230.7 L121.0,229.3 L121.3,227.8 L121.7,226.4 L122.1,224.9 L122.5,223.5 L122.9,222.0 L123.3,220.6 L123.7,219.1 L124.1,217.7 L124.5,216.3 L125.0,214.8 L125.4,213.4 L125.9,212.0 L126.4,210.5 L126.9,209.1 L127.4,207.7 L127.9,206.3 L128.4,204.9 L128.9,203.5 L129.5,202.1 L130.1,200.7 L130.6,199.3 L131.2,197.9 L131.8,196.5 L132.5,195.1 L133.1,193.7 L133.8,192.4 L134.4,191.0 L135.1,189.6 L135.8,188.3 L136.5,186.9 L137.3,185.6 L138.0,184.2 L138.8,182.9 L139.6,181.6 L140.4,180.3 L141.2,179.0 L142.0,177.7 L142.9,176.5 L143.8,175.2 L144.7,174.0 L145.6,172.9 L146.6,171.7 L147.6,170.7 L148.6,169.6 L149.6,168.6 L150.7,167.6 L151.7,166.6 L152.9,165.7 L154.0,164.9 L155.2,164.1 L156.4,163.4 L157.6,162.7 L158.9,162.1 L160.2,161.5 L161.5,161.0 L162.9,160.5 L164.3,160.1 L165.7,159.8 L167.2,159.5 L168.6,159.3 L170.1,159.1 L171.6,159.0 L173.1,158.9 L174.6,158.9 L176.1,158.9 L177.6,159.0 L179.1,159.1 L180.6,159.3 L182.1,159.5 L183.6,159.7 L185.1,159.9 L186.6,160.2 L188.0,160.6 L189.5,160.9 L190.9,161.3 L192.4,161.8 L193.8,162.2 L195.2,162.7 L196.7,163.2 L198.1,163.8 L199.5,164.3 L200.9,164.9 L202.3,165.5 L203.7,166.1 L205.0,166.8 L206.4,167.4 L207.8,168.1 L209.1,168.8 L210.5,169.5 L211.8,170.2 L213.2,170.9 L214.5,171.7 L215.8,172.4 L217.1,173.2 L218.4,173.9 L219.7,174.7 L221.0,175.5 L222.3,176.3 L223.6,177.1 L224.9,177.9 L226.2,178.7 L227.5,179.5 L228.7,180.3 L230.0,181.1 L231.2,182.0 L232.5,182.8 L233.7,183.6 L235.0,184.5 L236.2,185.4 L237.4,186.2 L238.6,187.1 L239.9,188.0 L241.1,188.9 L242.3,189.8 L243.5,190.7 L244.7,191.6 L245.9,192.5 L247.0,193.4 L248.2,194.3 L249.4,195.2 L250.6,196.2 L251.7,197.1 L252.9,198.0 L254.1,199.0 L255.2,199.9 L256.4,200.9 L257.5,201.9 L258.7,202.8 L259.8,203.8 L260.9,204.8 L262.1,205.8 L263.2,206.7 L264.3,207.7 L265.4,208.7 L266.5,209.7 L267.6,210.7 L268.8,211.7 L269.9,212.7 L271.0,213.8 L272.0,214.8 L273.1,215.8 L274.2,216.8 L275.3,217.9 L276.4,218.9 L277.5,219.9 L278.6,221.0 L279.6,222.0 L280.7,223.1 L281.8,224.1 L282.8,225.2 L283.9,226.2 L284.9,227.3 L286.0,228.3 L287.1,229.4 L288.1,230.5 L289.1,231.5 L290.2,232.6 L291.2,233.7 L292.3,234.8 L293.3,235.8 L294.3,236.9 L295.4,238.0 L296.4,239.1 L297.4,240.2 L298.5,241.2 L299.5,242.3 L300.5,243.4 L301.5,244.5 L302.6,245.6 L303.6,246.7 L304.6,247.8 L305.6,248.9 L306.6,250.0 L307.6,251.1 L308.6,252.2 L309.6,253.3 L310.7,254.4 L311.7,255.5 L312.7,256.6 L313.7,257.7 L314.7,258.8 L315.7,259.9 L316.6,261.0 L317.6,262.2 L318.6,263.3 L319.6,264.4 L320.6,265.5 L321.6,266.6 L322.6,267.7 L323.6,268.9 L324.6,270.0 L325.5,271.1 L326.5,272.2 L327.5,273.4 L328.5,274.5 L329.5,275.6 L330.4,276.7 L331.4,277.9 L332.4,279.0 L333.4,280.1 L334.3,281.3 L335.3,282.4 L336.3,283.5 L337.2,284.7 L338.2,285.8 L339.2,286.9 L340.1,288.1 L341.1,289.2 L342.1,290.3 L343.0,291.5 L344.0,292.6 L345.0,293.8 L345.9,294.9 L346.9,296.0 L347.9,297.2 L348.8,298.3 L349.8,299.5 L350.7,300.6 L351.7,301.8 L352.6,302.9 L353.6,304.1 L354.6,305.2 L355.5,306.3 L356.5,307.5 L357.4,308.6 L358.4,309.8 L359.3,310.9 L360.3,312.1 L361.2,313.2 L362.2,314.4 L363.2,315.5 L364.1,316.7 L365.1,317.8 L366.0,319.0 L367.0,320.2 L367.9,321.3 L368.9,322.5 L369.8,323.6 L370.8,324.8 L371.7,325.9 L372.7,327.1 L373.6,328.2 L374.6,329.4 L375.5,330.5 L376.5,331.7 L377.4,332.8 L378.4,334.0 L379.3,335.2 L380.3,336.3 L381.2,337.5 L382.2,338.6 L383.2,339.8 L384.1,340.9 L385.1,342.1 L386.0,343.2 L387.0,344.4 L387.9,345.5 L388.9,346.7 L389.8,347.9 L390.8,349.0 L391.8,350.2 L392.7,351.3 L393.7,352.5 L394.6,353.6 L395.6,354.8 L396.5,355.9 L397.5,357.1 L398.5,358.2 L399.4,359.4 L400.4,360.5 L401.4,361.7 L402.3,362.8 L403.3,364.0 L404.3,365.1 L405.2,366.3 L406.2,367.4 L407.2,368.6 L408.1,369.7 L409.1,370.9 L410.1,372.0 L411.1,373.2 L412.0,374.3 L413.0,375.5 L414.0,376.6 L415.0,377.8 L415.9,378.9 L416.9,380.0 L417.9,381.2 L418.9,382.3 L419.9,383.5 L420.9,384.6 L421.8,385.7 L422.8,386.9 L423.8,388.0 L424.8,389.2 L425.8,390.3 L426.8,391.4 L427.8,392.6 L428.8,393.7 L429.8,394.8 L430.8,396.0 L431.8,397.1 L432.8,398.2 L433.8,399.3 L434.8,400.5 L435.8,401.6 L436.8,402.7 L437.8,403.8 L438.9,405.0 L439.9,406.1 L440.9,407.2 L441.9,408.3 L442.9,409.4 L444.0,410.5 L445.0,411.7 L446.0,412.8 L447.0,413.9 L448.1,415.0 L449.1,416.1 L450.2,417.2 L451.2,418.3 L452.2,419.4 L453.3,420.5 L454.3,421.6 L455.4,422.6 L456.4,423.7 L457.5,424.8 L458.5,425.9 L459.6,427.0 L460.7,428.0 L461.7,429.1 L462.8,430.2 L463.9,431.2 L464.9,432.3 L466.0,433.3 L467.1,434.4 L468.2,435.4 L469.3,436.5 L470.4,437.5 L471.5,438.5 L472.5,439.6 L473.6,440.6 L474.7,441.6 L475.9,442.6 L477.0,443.6 L478.1,444.7 L479.2,445.7 L480.3,446.7 L481.4,447.6 L482.6,448.6 L483.7,449.6 L484.8,450.6 L486.0,451.6 L487.1,452.5 L488.2,453.5 L489.4,454.4 L490.5,455.4 L491.7,456.3 L492.9,457.3 L494.0,458.2 L495.2,459.1 L496.4,460.0 L497.5,461.0 L498.7,461.9 L499.9,462.8 L501.1,463.6 L502.3,464.5 L503.5,465.4 L504.7,466.3 L505.9,467.2 L507.1,468.0 L508.3,468.9 L509.5,469.7 L510.7,470.5 L512.0,471.4 L513.2,472.2 L514.4,473.0 L515.7,473.8 L516.9,474.6 L518.2,475.4 L519.4,476.2 L520.7,477.0 L522.0,477.7 L523.2,478.5 L524.5,479.3 L525.8,480.0 L527.1,480.7 L528.3,481.5 L529.6,482.2 L530.9,482.9 L532.2,483.6 L533.6,484.3 L534.9,485.0 L536.2,485.6 L537.5,486.3 L538.9,487.0 L540.2,487.6 L541.5,488.3 L542.9,488.9 L544.2,489.5 L545.6,490.1 L546.9,490.7 L548.3,491.3 L549.7,491.9 L551.0,492.5 L552.4,493.1 L553.8,493.6 L555.2,494.2 L556.6,494.7 L558.0,495.3 L559.4,495.8 L560.8,496.3 L562.2,496.8 L563.6,497.3 L565.0,497.8 L566.4,498.3 L567.8,498.8 L569.2,499.3 L570.7,499.7 L572.1,500.2 L573.5,500.6 L575.0,501.1 L576.4,501.5 L577.8,501.9 L579.3,502.4 L580.7,502.8 L582.2,503.2 L583.6,503.6 L585.1,503.9 L586.5,504.3 L588.0,504.7 L589.5,505.1 L590.9,505.4 L592.4,505.8 L593.9,506.1 L595.3,506.4 L596.8,506.8 L598.3,507.1 L599.8,507.4 L601.2,507.7 L602.7,508.0 L604.2,508.3 L605.7,508.6 L607.1,508.9 L608.6,509.1 L610.1,509.4 L611.6,509.7 L613.1,509.9 L614.6,510.2 L616.1,510.4 L617.6,510.6 L619.0,510.8 L620.5,511.1 L622.0,511.3 L623.5,511.5 L625.0,511.7 L626.5,511.9 L628.0,512.0 L629.5,512.2 L631.0,512.4 L632.5,512.6 L634.0,512.7 L635.5,512.9 L637.0,513.0 L638.5,513.1 L640.0,513.3 L641.5,513.4 L642.9,513.5 L644.4,513.6 L645.9,513.8 L647.4,513.9 L648.9,514.0 L650.4,514.1 L651.9,514.2 L653.4,514.2 L654.9,514.3 L656.4,514.4 L657.9,514.5 L659.4,514.5 L660.9,514.6 L662.4,514.7 L663.9,514.7 L665.4,514.8 L666.9,514.8 L668.4,514.9 L669.9,514.9 L671.3,514.9 L672.8,515.0 L674.3,515.0 L675.8,515.0 L677.3,515.1 L678.8,515.1 L680.3,515.1 L681.8,515.1 L683.3,515.2 L684.8,515.2 L686.3,515.2 L687.8,515.2 L689.3,515.3 L690.8,515.3 L692.3,515.3 L693.8,515.3 L695.3,515.3 L696.8,515.3 L698.3,515.3 L699.8,515.3 L701.3,515.3 L702.8,515.4 L704.3,515.4 L705.8,515.4 L707.3,515.4 L708.7,515.4 L710.2,515.4 L711.7,515.4 L713.2,515.4 L714.7,515.4 L716.2,515.4 L717.7,515.4 L719.2,515.4 L720.7,515.4 L722.2,515.5 L723.7,515.5 L725.2,515.5 L726.7,515.5 L728.2,515.5 L729.7,515.5 L731.2,515.5 L732.7,515.5 L734.2,515.5 L735.7,515.6 L737.2,515.6 L738.7,515.6 L740.2,515.6 L741.7,515.6 L743.2,515.6 L744.7,515.6 L746.2,515.6 L747.7,515.6 L749.2,515.6 L750.7,515.7 L752.2,515.7 L753.7,515.7 L755.2,515.7 L756.7,515.7 L758.2,515.7 L759.7,515.7 L761.2,515.7 L762.7,515.7 L764.2,515.7 L765.7,515.7 L767.2,515.7 L768.7,515.7 L770.2,515.7 L771.7,515.7 L773.2,515.7 L774.7,515.7 L776.2,515.7 L777.7,515.7 L779.2,515.7 L780.7,515.7 L782.2,515.7 L783.7,515.7 L785.2,515.7 L786.7,515.7 L788.2,515.7 L789.7,515.7 L791.2,515.7 L792.7,515.7 L794.2,515.7 L795.7,515.7 L797.2,515.7 L798.7,515.7 L800.2,515.7 L801.7,515.7 L803.2,515.7 L804.7,515.7 L806.2,515.7 L807.7,515.7 L809.2,515.7 L810.7,515.7 L812.2,515.7 L813.7,515.7 L815.2,515.7 L816.7,515.7 L818.2,515.7 L819.7,515.7 L821.2,515.7 L822.7,515.7 L824.2,515.7 L825.7,515.7 L827.2,515.7 L828.7,515.7 L830.2,515.7 L831.7,515.7 L833.2,515.7 L834.7,515.7 L836.2,515.7 L837.7,515.7 L839.2,515.7 L840.7,515.7 L842.2,515.7 L843.7,515.7 L845.2,515.7 L846.7,515.7 L848.2,515.7 L849.7,515.7 L851.2,515.7 L852.7,515.7 L854.2,515.7 L855.7,515.7 L857.2,515.7 L858.7,515.7 L860.2,515.7 L861.7,515.7 L863.2,515.7 L864.7,515.7 L866.2,515.7 L867.7,515.7 L869.2,515.7 L870.7,515.7 L872.2,515.7 L873.7,515.7 L875.2,515.7 L876.7,515.7 L878.2,515.7 L879.7,515.7 L881.2,515.7 L882.7,515.7 L884.2,515.7 L885.7,515.7 L887.2,515.7 L888.7,515.7 L890.2,515.7 L891.7,515.7 L893.2,515.7 L894.7,515.7 L896.2,515.7 L897.7,515.7 L899.2,515.7 L900.7,515.7 L902.2,515.7 L903.7,515.7 L905.2,515.7 L906.7,515.7 L908.2,515.7 L909.7,515.7 L911.2,515.7 L912.7,515.7 L914.2,515.7 L915.7,515.7 L917.2,515.7 L918.6,515.7 L920.1,515.7 L921.6,515.7 L923.1,515.7 L924.6,515.7 L926.1,515.7 L927.6,515.7 L929.1,515.7 L930.6,515.7 L932.1,515.7 L933.6,515.7 L935.1,515.7 L936.6,515.7 L938.1,515.7 L939.6,515.7 L941.1,515.7 L942.6,515.7 L944.1,515.7 L945.6,515.7 L947.1,515.7 L948.6,515.7 L950.1,515.7 L951.6,515.7 L953.0,515.7 L954.5,515.7 L956.0,515.7 L957.5,515.7 L959.0,515.7 L960.5,515.7 L962.0,515.7 L963.5,515.7 L965.0,515.7" stroke="#000080" stroke-width="2.6"/>
<path d="M98.3,76.5 L98.3,78.0 L98.4,79.5 L98.4,81.0 L98.4,82.5 L98.5,84.0 L98.5,85.5 L98.6,87.0 L98.6,88.5 L98.7,90.0 L98.7,91.5 L98.8,93.0 L98.8,94.5 L98.9,96.0 L98.9,97.5 L99.0,99.0 L99.0,100.5 L99.1,102.0 L99.1,103.5 L99.2,105.0 L99.3,106.5 L99.3,108.0 L99.4,109.5 L99.5,111.0 L99.5,112.5 L99.6,114.0 L99.7,115.5 L99.7,117.0 L99.8,118.5 L99.9,120.0 L99.9,121.5 L100.0,123.0 L100.1,124.5 L100.2,126.0 L100.2,127.5 L100.3,129.0 L100.4,130.5 L100.5,132.0 L100.5,133.4 L100.6,134.9 L100.7,136.4 L100.8,137.9 L100.9,139.4 L100.9,140.9 L101.0,142.4 L101.1,143.9 L101.2,145.4 L101.3,146.9 L101.3,148.4 L101.4,149.9 L101.5,151.4 L101.6,152.9 L101.7,154.4 L101.8,155.9 L101.9,157.4 L101.9,158.9 L102.0,160.4 L102.1,161.9 L102.2,163.4 L102.3,164.9 L102.4,166.4 L102.5,167.9 L102.6,169.3 L102.7,170.8 L102.7,172.3 L102.8,173.8 L102.9,175.3 L103.0,176.8 L103.1,178.3 L103.2,179.8 L103.3,181.3 L103.4,182.8 L103.5,184.3 L103.5,185.8 L103.6,187.3 L103.7,188.8 L103.8,190.3 L103.9,191.8 L104.0,193.3 L104.1,194.8 L104.2,196.3 L104.3,197.8 L104.3,199.3 L104.4,200.8 L104.5,202.3 L104.6,203.8 L104.7,205.3 L104.8,206.8 L104.9,208.3 L105.0,209.8 L105.0,211.3 L105.1,212.8 L105.2,214.2 L105.3,215.7 L105.4,217.2 L105.5,218.7 L105.5,220.2 L105.6,221.7 L105.7,223.2 L105.8,224.7 L105.9,226.2 L105.9,227.7 L106.0,229.2 L106.1,230.7 L106.2,232.2 L106.3,233.7 L106.3,235.2 L106.4,236.7 L106.5,238.2 L106.6,239.7 L106.7,241.2 L106.7,242.7 L106.8,244.2 L106.9,245.7 L107.0,247.2 L107.1,248.7 L107.2,250.2 L107.2,251.7 L107.3,253.2 L107.4,254.7 L107.5,256.2 L107.6,257.7 L107.7,259.2 L107.8,260.7 L107.9,262.2 L108.0,263.7 L108.1,265.2 L108.2,266.7 L108.3,268.2 L108.4,269.7 L108.5,271.2 L108.7,272.7 L108.8,274.2 L108.9,275.7 L109.0,277.2 L109.1,278.7 L109.3,280.2 L109.4,281.7 L109.5,283.1 L109.7,284.6 L109.8,286.1 L110.0,287.6 L110.1,289.1 L110.3,290.6 L110.4,292.1 L110.6,293.6 L110.8,295.1 L110.9,296.5 L111.1,298.0 L111.3,299.5 L111.5,301.0 L111.7,302.5 L111.9,304.0 L112.1,305.5 L112.3,306.9 L112.5,308.4 L112.7,309.9 L112.9,311.4 L113.1,312.9 L113.3,314.3 L113.5,315.8 L113.8,317.3 L114.0,318.8 L114.2,320.3 L114.5,321.7 L114.7,323.2 L114.9,324.7 L115.2,326.2 L115.4,327.7 L115.7,329.1 L115.9,330.6 L116.2,332.1 L116.4,333.6 L116.7,335.0 L116.9,336.5 L117.2,338.0 L117.5,339.5 L117.7,340.9 L118.0,342.4 L118.3,343.9 L118.5,345.4 L118.8,346.8 L119.1,348.3 L119.3,349.8 L119.6,351.3 L119.9,352.7 L120.2,354.2 L120.4,355.7 L120.7,357.2 L121.0,358.7 L121.3,360.1 L121.5,361.6 L121.8,363.1 L122.1,364.6 L122.4,366.0 L122.7,367.5 L122.9,369.0 L123.2,370.5 L123.5,371.9 L123.8,373.4 L124.1,374.9 L124.4,376.4 L124.6,377.9 L124.9,379.3 L125.2,380.8 L125.6,382.3 L125.9,383.7 L126.2,385.2 L126.5,386.7 L126.9,388.1 L127.2,389.6 L127.6,391.0 L128.0,392.5 L128.3,393.9 L128.7,395.4 L129.2,396.8 L129.6,398.3 L130.0,399.7 L130.5,401.1 L131.0,402.5 L131.5,403.9 L132.0,405.3 L132.5,406.7 L133.1,408.1 L133.7,409.5 L134.3,410.9 L134.9,412.2 L135.5,413.6 L136.2,414.9 L136.8,416.3 L137.5,417.6 L138.2,418.9 L139.0,420.2 L139.7,421.5 L140.5,422.8 L141.2,424.1 L142.0,425.4 L142.9,426.6 L143.7,427.9 L144.6,429.1 L145.5,430.3 L146.4,431.5 L147.3,432.7 L148.2,433.9 L149.2,435.0 L150.1,436.2 L151.1,437.3 L152.1,438.4 L153.2,439.5 L154.2,440.6 L155.3,441.7 L156.3,442.8 L157.4,443.8 L158.5,444.9 L159.6,445.9 L160.7,446.9 L161.8,447.9 L163.0,448.9 L164.1,449.8 L165.3,450.7 L166.5,451.6 L167.7,452.5 L168.9,453.4 L170.2,454.2 L171.4,455.0 L172.7,455.8 L174.0,456.6 L175.3,457.3 L176.6,458.0 L177.9,458.7 L179.2,459.4 L180.6,460.1 L181.9,460.8 L183.3,461.4 L184.7,462.0 L186.0,462.6 L187.4,463.2 L188.8,463.7 L190.2,464.3 L191.7,464.8 L193.1,465.3 L194.5,465.8 L195.9,466.2 L197.3,466.7 L198.8,467.1 L200.2,467.5 L201.7,467.9 L203.1,468.3 L204.6,468.7 L206.0,469.1 L207.5,469.5 L208.9,469.8 L210.4,470.2 L211.8,470.5 L213.3,470.8 L214.8,471.1 L216.2,471.5 L217.7,471.8 L219.2,472.1 L220.6,472.4 L222.1,472.7 L223.6,473.0 L225.1,473.3 L226.5,473.6 L228.0,473.8 L229.5,474.1 L230.9,474.4 L232.4,474.7 L233.9,474.9 L235.4,475.2 L236.8,475.4 L238.3,475.7 L239.8,476.0 L241.3,476.2 L242.8,476.4 L244.2,476.7 L245.7,476.9 L247.2,477.1 L248.7,477.4 L250.2,477.6 L251.6,477.8 L253.1,478.0 L254.6,478.2 L256.1,478.4 L257.6,478.6 L259.1,478.8 L260.5,479.0 L262.0,479.2 L263.5,479.4 L265.0,479.6 L266.5,479.8 L268.0,480.0 L269.5,480.2 L271.0,480.4 L272.4,480.5 L273.9,480.7 L275.4,480.9 L276.9,481.0 L278.4,481.2 L279.9,481.4 L281.4,481.5 L282.9,481.7 L284.4,481.9 L285.9,482.0 L287.4,482.2 L288.8,482.3 L290.3,482.5 L291.8,482.6 L293.3,482.8 L294.8,482.9 L296.3,483.1 L297.8,483.2 L299.3,483.3 L300.8,483.5 L302.3,483.6 L303.8,483.8 L305.3,483.9 L306.8,484.0 L308.3,484.2 L309.8,484.3 L311.3,484.4 L312.7,484.6 L314.2,484.7 L315.7,484.8 L317.2,484.9 L318.7,485.1 L320.2,485.2 L321.7,485.3 L323.2,485.5 L324.7,485.6 L326.2,485.7 L327.7,485.8 L329.2,486.0 L330.7,486.1 L332.2,486.2 L333.7,486.3 L335.2,486.5 L336.7,486.6 L338.2,486.7 L339.7,486.8 L341.2,487.0 L342.6,487.1 L344.1,487.2 L345.6,487.4 L347.1,487.5 L348.6,487.6 L350.1,487.7 L351.6,487.9 L353.1,488.0 L354.6,488.1 L356.1,488.3 L357.6,488.4 L359.1,488.5 L360.6,488.7 L362.1,488.8 L363.5,488.9 L365.0,489.1 L366.5,489.2 L368.0,489.4 L369.5,489.5 L371.0,489.6 L372.5,489.8 L374.0,489.9 L375.5,490.1 L377.0,490.2 L378.5,490.4 L380.0,490.5 L381.4,490.7 L382.9,490.8 L384.4,491.0 L385.9,491.1 L387.4,491.3 L388.9,491.4 L390.4,491.6 L391.9,491.8 L393.4,491.9 L394.9,492.1 L396.3,492.3 L397.8,492.4 L399.3,492.6 L400.8,492.8 L402.3,492.9 L403.8,493.1 L405.3,493.3 L406.8,493.5 L408.3,493.6 L409.8,493.8 L411.2,494.0 L412.7,494.2 L414.2,494.3 L415.7,494.5 L417.2,494.7 L418.7,494.9 L420.2,495.1 L421.7,495.2 L423.2,495.4 L424.7,495.6 L426.1,495.7 L427.6,495.9 L429.1,496.1 L430.6,496.2 L432.1,496.4 L433.6,496.5 L435.1,496.7 L436.6,496.8 L438.1,497.0 L439.6,497.1 L441.1,497.2 L442.6,497.4 L444.1,497.5 L445.6,497.6 L447.0,497.8 L448.5,497.9 L450.0,498.0 L451.5,498.1 L453.0,498.3 L454.5,498.4 L456.0,498.5 L457.5,498.6 L459.0,498.8 L460.5,498.9 L462.0,499.0 L463.5,499.2 L465.0,499.3 L466.5,499.5 L467.9,499.6 L469.4,499.8 L470.9,499.9 L472.4,500.1 L473.9,500.2 L475.4,500.4 L476.9,500.6 L478.4,500.7 L479.9,500.9 L481.4,501.1 L482.9,501.2 L484.3,501.4 L485.8,501.6 L487.3,501.8 L488.8,501.9 L490.3,502.1 L491.8,502.3 L493.3,502.5 L494.8,502.7 L496.3,502.9 L497.7,503.0 L499.2,503.2 L500.7,503.4 L502.2,503.6 L503.7,503.8 L505.2,504.0 L506.7,504.2 L508.2,504.4 L509.6,504.5 L511.1,504.7 L512.6,504.9 L514.1,505.1 L515.6,505.3 L517.1,505.5 L518.6,505.7 L520.1,505.9 L521.5,506.1 L523.0,506.2 L524.5,506.4 L526.0,506.6 L527.5,506.8 L529.0,507.0 L530.5,507.2 L532.0,507.4 L533.5,507.5 L534.9,507.7 L536.4,507.9 L537.9,508.1 L539.4,508.2 L540.9,508.4 L542.4,508.6 L543.9,508.8 L545.4,508.9 L546.9,509.1 L548.3,509.3 L549.8,509.4 L551.3,509.6 L552.8,509.7 L554.3,509.9 L555.8,510.0 L557.3,510.2 L558.8,510.3 L560.3,510.5 L561.8,510.6 L563.3,510.8 L564.7,510.9 L566.2,511.0 L567.7,511.1 L569.2,511.3 L570.7,511.4 L572.2,511.5 L573.7,511.6 L575.2,511.7 L576.7,511.8 L578.2,511.9 L579.7,512.0 L581.2,512.1 L582.7,512.2 L584.2,512.3 L585.7,512.4 L587.2,512.5 L588.7,512.6 L590.2,512.7 L591.7,512.7 L593.2,512.8 L594.7,512.9 L596.2,513.0 L597.7,513.0 L599.2,513.1 L600.7,513.2 L602.2,513.2 L603.7,513.3 L605.1,513.4 L606.6,513.4 L608.1,513.5 L609.6,513.5 L611.1,513.6 L612.6,513.6 L614.1,513.7 L615.6,513.7 L617.1,513.8 L618.6,513.8 L620.1,513.9 L621.6,513.9 L623.1,514.0 L624.6,514.0 L626.1,514.1 L627.6,514.1 L629.1,514.1 L630.6,514.2 L632.1,514.2 L633.6,514.2 L635.1,514.3 L636.6,514.3 L638.1,514.3 L639.6,514.4 L641.1,514.4 L642.6,514.4 L644.1,514.5 L645.6,514.5 L647.1,514.5 L648.6,514.6 L650.1,514.6 L651.6,514.6 L653.1,514.7 L654.6,514.7 L656.1,514.7 L657.6,514.8 L659.1,514.8 L660.6,514.8 L662.1,514.9 L663.6,514.9 L665.1,514.9 L666.6,515.0 L668.1,515.0 L669.6,515.1 L671.1,515.1 L672.6,515.1 L674.1,515.2 L675.6,515.2 L677.1,515.2 L678.6,515.3 L680.1,515.3 L681.6,515.3 L683.1,515.3 L684.6,515.4 L686.1,515.4 L687.6,515.4 L689.1,515.4 L690.6,515.5 L692.1,515.5 L693.6,515.5 L695.1,515.5 L696.6,515.5 L698.1,515.5 L699.6,515.6 L701.1,515.6 L702.6,515.6 L704.1,515.6 L705.6,515.6 L707.1,515.6 L708.6,515.6 L710.1,515.6 L711.6,515.6 L713.1,515.7 L714.6,515.7 L716.1,515.7 L717.6,515.7 L719.1,515.7 L720.6,515.7 L722.1,515.7 L723.6,515.7 L725.1,515.7 L726.6,515.7 L728.1,515.7 L729.6,515.7 L731.1,515.7 L732.6,515.7 L734.1,515.7 L735.6,515.7 L737.1,515.7 L738.5,515.7 L740.0,515.7 L741.5,515.7 L743.0,515.7 L744.5,515.7 L746.0,515.7 L747.5,515.7 L749.0,515.7 L750.5,515.7 L752.0,515.7 L753.5,515.7 L755.0,515.7 L756.5,515.7 L758.0,515.7 L759.5,515.7 L761.0,515.7 L762.5,515.7 L764.0,515.7 L765.5,515.7 L767.0,515.7 L768.5,515.7 L770.0,515.7 L771.5,515.7 L773.0,515.7 L774.5,515.7 L776.0,515.7 L777.5,515.7 L779.0,515.7 L780.5,515.7 L782.0,515.7 L783.5,515.7 L785.0,515.7 L786.5,515.7 L788.0,515.7 L789.5,515.7 L791.0,515.7 L792.5,515.7 L794.0,515.7 L795.5,515.7 L797.0,515.7 L798.5,515.7 L800.0,515.7 L801.5,515.7 L803.0,515.7 L804.5,515.7 L806.0,515.7 L807.5,515.7 L809.0,515.7 L810.5,515.7 L812.0,515.7 L813.5,515.7 L814.9,515.7 L816.4,515.7 L817.9,515.7 L819.4,515.7 L820.9,515.7 L822.4,515.7 L823.9,515.7 L825.4,515.7 L826.9,515.7 L828.4,515.7 L829.9,515.7 L831.4,515.7 L832.9,515.7 L834.4,515.7 L835.9,515.7 L837.4,515.7 L838.9,515.7 L840.4,515.7 L841.9,515.7 L843.4,515.7 L844.9,515.7 L846.4,515.7 L847.9,515.7 L849.4,515.7 L850.9,515.7 L852.4,515.7 L853.9,515.7 L855.4,515.7 L856.9,515.7 L858.4,515.7 L859.9,515.7 L861.4,515.7 L862.9,515.7 L864.4,515.7 L865.9,515.7 L867.4,515.7 L868.9,515.7 L870.4,515.7 L871.9,515.7 L873.4,515.7 L874.9,515.7 L876.4,515.7 L877.9,515.7 L879.4,515.7 L880.9,515.7 L882.4,515.7 L883.9,515.7 L885.4,515.7 L886.9,515.7 L888.4,515.7 L889.9,515.7 L891.4,515.7 L892.9,515.7 L894.4,515.7 L895.9,515.7 L897.4,515.7 L898.9,515.7 L900.4,515.7 L901.9,515.7 L903.4,515.7 L904.9,515.7 L906.4,515.7 L907.9,515.7 L909.4,515.7 L910.9,515.7 L912.4,515.7 L913.9,515.7 L915.4,515.7 L916.9,515.7 L918.4,515.7 L919.9,515.7 L921.4,515.7 L922.9,515.7 L924.4,515.7 L925.9,515.7 L927.4,515.7 L928.9,515.7 L930.4,515.7 L931.9,515.7 L933.4,515.7 L934.9,515.7 L936.4,515.7 L937.9,515.7 L939.4,515.7 L941.0,515.7 L942.5,515.7 L944.0,515.7 L945.5,515.7 L947.0,515.7 L948.5,515.7 L950.0,515.7 L951.5,515.7 L953.0,515.7 L954.5,515.7 L956.0,515.7 L957.5,515.7 L959.0,515.7 L960.5,515.7 L962.0,515.7 L963.5,515.7 L965.0,515.7" stroke="#ffa500" stroke-width="2.3"/>
<path d="M98.3,76.5 L99.8,76.7 L101.3,76.9 L102.8,77.1 L104.3,77.3 L105.8,77.5 L107.3,77.8 L108.8,78.0 L110.3,78.3 L111.8,78.6 L113.3,78.8 L114.8,79.1 L116.2,79.4 L117.7,79.8 L119.2,80.1 L120.6,80.4 L122.1,80.8 L123.5,81.1 L125.0,81.5 L126.4,81.9 L127.9,82.3 L129.3,82.7 L130.7,83.1 L132.1,83.5 L133.6,83.9 L135.0,84.4 L136.4,84.8 L137.8,85.3 L139.2,85.8 L140.6,86.3 L142.0,86.8 L143.4,87.3 L144.8,87.8 L146.2,88.3 L147.6,88.8 L149.0,89.3 L150.3,89.9 L151.7,90.5 L153.1,91.0 L154.4,91.6 L155.8,92.2 L157.1,92.8 L158.5,93.4 L159.8,94.0 L161.2,94.6 L162.5,95.2 L163.9,95.9 L165.2,96.5 L166.5,97.2 L167.8,97.8 L169.2,98.5 L170.5,99.2 L171.8,99.8 L173.1,100.5 L174.4,101.2 L175.7,101.9 L177.0,102.7 L178.3,103.4 L179.6,104.1 L180.9,104.8 L182.2,105.6 L183.5,106.3 L184.7,107.1 L186.0,107.9 L187.3,108.6 L188.5,109.4 L189.8,110.2 L191.1,111.0 L192.3,111.8 L193.6,112.6 L194.8,113.4 L196.1,114.3 L197.3,115.1 L198.6,115.9 L199.8,116.8 L201.0,117.6 L202.3,118.5 L203.5,119.3 L204.7,120.2 L205.9,121.1 L207.1,121.9 L208.3,122.8 L209.6,123.7 L210.8,124.6 L212.0,125.5 L213.2,126.4 L214.4,127.3 L215.5,128.2 L216.7,129.1 L217.9,130.1 L219.1,131.0 L220.3,131.9 L221.5,132.9 L222.6,133.8 L223.8,134.8 L225.0,135.7 L226.1,136.7 L227.3,137.7 L228.4,138.6 L229.6,139.6 L230.8,140.6 L231.9,141.6 L233.0,142.6 L234.2,143.5 L235.3,144.5 L236.5,145.5 L237.6,146.5 L238.7,147.5 L239.8,148.6 L241.0,149.6 L242.1,150.6 L243.2,151.6 L244.3,152.6 L245.4,153.7 L246.5,154.7 L247.6,155.7 L248.7,156.8 L249.8,157.8 L250.9,158.9 L252.0,159.9 L253.1,160.9 L254.2,162.0 L255.3,163.1 L256.4,164.1 L257.5,165.2 L258.5,166.2 L259.6,167.3 L260.7,168.4 L261.8,169.4 L262.8,170.5 L263.9,171.6 L264.9,172.7 L266.0,173.7 L267.1,174.8 L268.1,175.9 L269.2,177.0 L270.2,178.1 L271.3,179.2 L272.3,180.3 L273.3,181.3 L274.4,182.4 L275.4,183.5 L276.4,184.6 L277.5,185.7 L278.5,186.8 L279.5,187.9 L280.5,189.0 L281.6,190.1 L282.6,191.2 L283.6,192.3 L284.6,193.4 L285.6,194.5 L286.6,195.7 L287.6,196.8 L288.6,197.9 L289.6,199.0 L290.6,200.1 L291.6,201.2 L292.6,202.3 L293.6,203.5 L294.6,204.6 L295.6,205.7 L296.6,206.8 L297.6,208.0 L298.5,209.1 L299.5,210.2 L300.5,211.3 L301.5,212.5 L302.5,213.6 L303.4,214.7 L304.4,215.9 L305.4,217.0 L306.3,218.1 L307.3,219.3 L308.3,220.4 L309.2,221.5 L310.2,222.7 L311.2,223.8 L312.1,225.0 L313.1,226.1 L314.0,227.2 L315.0,228.4 L315.9,229.5 L316.9,230.7 L317.8,231.8 L318.8,233.0 L319.7,234.1 L320.7,235.3 L321.6,236.4 L322.5,237.6 L323.5,238.7 L324.4,239.9 L325.4,241.1 L326.3,242.2 L327.2,243.4 L328.2,244.5 L329.1,245.7 L330.0,246.8 L331.0,248.0 L331.9,249.2 L332.8,250.3 L333.8,251.5 L334.7,252.6 L335.6,253.8 L336.5,255.0 L337.5,256.1 L338.4,257.3 L339.3,258.5 L340.2,259.6 L341.1,260.8 L342.1,262.0 L343.0,263.1 L343.9,264.3 L344.8,265.5 L345.7,266.7 L346.7,267.8 L347.6,269.0 L348.5,270.2 L349.4,271.4 L350.3,272.5 L351.2,273.7 L352.1,274.9 L353.0,276.1 L354.0,277.2 L354.9,278.4 L355.8,279.6 L356.7,280.8 L357.6,281.9 L358.5,283.1 L359.4,284.3 L360.3,285.5 L361.2,286.7 L362.1,287.8 L363.1,289.0 L364.0,290.2 L364.9,291.4 L365.8,292.6 L366.7,293.7 L367.6,294.9 L368.5,296.1 L369.4,297.3 L370.3,298.5 L371.2,299.6 L372.1,300.8 L373.0,302.0 L373.9,303.2 L374.9,304.4 L375.8,305.6 L376.7,306.7 L377.6,307.9 L378.5,309.1 L379.4,310.3 L380.3,311.5 L381.2,312.7 L382.1,313.8 L383.0,315.0 L383.9,316.2 L384.9,317.4 L385.8,318.6 L386.7,319.8 L387.6,320.9 L388.5,322.1 L389.4,323.3 L390.3,324.5 L391.2,325.7 L392.2,326.9 L393.1,328.1 L394.0,329.2 L394.9,330.4 L395.8,331.6 L396.7,332.8 L397.7,334.0 L398.6,335.2 L399.5,336.3 L400.4,337.5 L401.3,338.7 L402.3,339.9 L403.2,341.1 L404.1,342.2 L405.0,343.4 L406.0,344.6 L406.9,345.8 L407.8,347.0 L408.7,348.2 L409.7,349.3 L410.6,350.5 L411.5,351.7 L412.5,352.9 L413.4,354.0 L414.4,355.2 L415.3,356.4 L416.2,357.6 L417.2,358.8 L418.1,359.9 L419.1,361.1 L420.0,362.3 L420.9,363.5 L421.9,364.6 L422.8,365.8 L423.8,367.0 L424.7,368.2 L425.7,369.3 L426.6,370.5 L427.6,371.7 L428.6,372.8 L429.5,374.0 L430.5,375.2 L431.4,376.3 L432.4,377.5 L433.4,378.7 L434.3,379.9 L435.3,381.0 L436.3,382.2 L437.3,383.3 L438.2,384.5 L439.2,385.7 L440.2,386.8 L441.2,388.0 L442.1,389.2 L443.1,390.3 L444.1,391.5 L445.1,392.6 L446.1,393.8 L447.1,394.9 L448.1,396.1 L449.1,397.2 L450.1,398.4 L451.1,399.5 L452.1,400.7 L453.1,401.8 L454.1,402.9 L455.1,404.1 L456.1,405.2 L457.1,406.4 L458.1,407.5 L459.2,408.6 L460.2,409.7 L461.2,410.9 L462.2,412.0 L463.3,413.1 L464.3,414.2 L465.3,415.3 L466.4,416.4 L467.4,417.5 L468.4,418.6 L469.5,419.7 L470.5,420.8 L471.6,421.9 L472.6,423.0 L473.7,424.1 L474.7,425.2 L475.8,426.3 L476.9,427.4 L477.9,428.4 L479.0,429.5 L480.1,430.6 L481.1,431.6 L482.2,432.7 L483.3,433.7 L484.4,434.8 L485.5,435.8 L486.5,436.9 L487.6,437.9 L488.7,438.9 L489.8,440.0 L490.9,441.0 L492.0,442.0 L493.1,443.0 L494.2,444.0 L495.4,445.0 L496.5,446.0 L497.6,447.0 L498.7,448.0 L499.8,449.0 L501.0,450.0 L502.1,450.9 L503.2,451.9 L504.4,452.9 L505.5,453.8 L506.7,454.8 L507.8,455.7 L509.0,456.7 L510.1,457.6 L511.3,458.5 L512.4,459.5 L513.6,460.4 L514.8,461.3 L516.0,462.2 L517.1,463.1 L518.3,464.0 L519.5,464.9 L520.7,465.7 L521.9,466.6 L523.1,467.5 L524.3,468.3 L525.5,469.2 L526.7,470.0 L527.9,470.9 L529.1,471.7 L530.3,472.5 L531.5,473.4 L532.8,474.2 L534.0,475.0 L535.2,475.8 L536.5,476.6 L537.7,477.3 L539.0,478.1 L540.2,478.9 L541.5,479.6 L542.7,480.4 L544.0,481.1 L545.3,481.9 L546.5,482.6 L547.8,483.3 L549.1,484.0 L550.4,484.7 L551.7,485.4 L552.9,486.1 L554.2,486.8 L555.5,487.5 L556.8,488.1 L558.2,488.8 L559.5,489.4 L560.8,490.1 L562.1,490.7 L563.4,491.3 L564.8,491.9 L566.1,492.5 L567.5,493.1 L568.8,493.7 L570.1,494.3 L571.5,494.8 L572.9,495.4 L574.2,495.9 L575.6,496.4 L577.0,497.0 L578.3,497.5 L579.7,498.0 L581.1,498.5 L582.5,499.0 L583.9,499.5 L585.3,499.9 L586.7,500.4 L588.1,500.8 L589.5,501.3 L591.0,501.7 L592.4,502.1 L593.8,502.5 L595.3,502.9 L596.7,503.3 L598.1,503.7 L599.6,504.1 L601.0,504.5 L602.5,504.8 L603.9,505.2 L605.4,505.5 L606.9,505.8 L608.3,506.2 L609.8,506.5 L611.3,506.8 L612.7,507.1 L614.2,507.4 L615.7,507.7 L617.2,508.0 L618.7,508.3 L620.1,508.5 L621.6,508.8 L623.1,509.0 L624.6,509.3 L626.1,509.5 L627.6,509.8 L629.1,510.0 L630.6,510.2 L632.1,510.5 L633.6,510.7 L635.1,510.9 L636.6,511.1 L638.1,511.3 L639.6,511.5 L641.2,511.7 L642.7,511.8 L644.2,512.0 L645.7,512.2 L647.2,512.4 L648.7,512.5 L650.2,512.7 L651.7,512.8 L653.3,513.0 L654.8,513.1 L656.3,513.3 L657.8,513.4 L659.3,513.6 L660.8,513.7 L662.3,513.8 L663.9,514.0 L665.4,514.1 L666.9,514.2 L668.4,514.3 L669.9,514.4 L671.4,514.5 L672.9,514.6 L674.4,514.7 L675.9,514.8 L677.5,514.9 L679.0,515.0 L680.5,515.1 L682.0,515.2 L683.5,515.3 L685.0,515.4 L686.5,515.5 L688.0,515.5 L689.5,515.6 L691.0,515.7 L692.5,515.7 L694.1,515.7 L695.6,515.7 L697.1,515.7 L698.6,515.7 L700.1,515.7 L701.6,515.7 L703.1,515.7 L704.6,515.7 L706.1,515.7 L707.6,515.7 L709.1,515.7 L710.6,515.7 L712.1,515.7 L713.6,515.7 L715.1,515.7 L716.6,515.7 L718.1,515.7 L719.6,515.7 L721.1,515.7 L722.6,515.7 L724.1,515.7 L725.6,515.7 L727.2,515.7 L728.7,515.7 L730.2,515.7 L731.7,515.7 L733.2,515.7 L734.7,515.7 L736.2,515.7 L737.7,515.7 L739.2,515.7 L740.7,515.7 L742.2,515.7 L743.7,515.7 L745.2,515.7 L746.7,515.7 L748.2,515.7 L749.7,515.7 L751.2,515.7 L752.7,515.7 L754.2,515.7 L755.7,515.7 L757.2,515.7 L758.7,515.7 L760.2,515.7 L761.7,515.7 L763.1,515.7 L764.6,515.7 L766.1,515.7 L767.6,515.7 L769.1,515.7 L770.6,515.7 L772.1,515.7 L773.6,515.7 L775.1,515.7 L776.6,515.7 L778.1,515.7 L779.6,515.7 L781.1,515.7 L782.6,515.7 L784.1,515.7 L785.6,515.7 L787.1,515.7 L788.6,515.7 L790.1,515.7 L791.6,515.7 L793.1,515.7 L794.6,515.7 L796.1,515.7 L797.6,515.7 L799.1,515.7 L800.6,515.7 L802.1,515.7 L803.5,515.7 L805.0,515.7 L806.5,515.7 L808.0,515.7 L809.5,515.7 L811.0,515.7 L812.5,515.7 L814.0,515.7 L815.5,515.7 L817.0,515.7 L818.5,515.7 L820.0,515.7 L821.5,515.7 L823.0,515.7 L824.5,515.7 L826.0,515.7 L827.5,515.7 L828.9,515.7 L830.4,515.7 L831.9,515.7 L833.4,515.7 L834.9,515.7 L836.4,515.7 L837.9,515.7 L839.4,515.7 L840.9,515.7 L842.4,515.7 L843.9,515.7 L845.4,515.7 L846.9,515.7 L848.4,515.7 L849.9,515.7 L851.3,515.7 L852.8,515.7 L854.3,515.7 L855.8,515.7 L857.3,515.7 L858.8,515.7 L860.3,515.7 L861.8,515.7 L863.3,515.7 L864.8,515.7 L866.3,515.7 L867.8,515.7 L869.3,515.7 L870.8,515.7 L872.3,515.7 L873.7,515.7 L875.2,515.7 L876.7,515.7 L878.2,515.7 L879.7,515.7 L881.2,515.7 L882.7,515.7 L884.2,515.7 L885.7,515.7 L887.2,515.7 L888.7,515.7 L890.2,515.7 L891.7,515.7 L893.2,515.7 L894.7,515.7 L896.2,515.7 L897.6,515.7 L899.1,515.7 L900.6,515.7 L902.1,515.7 L903.6,515.7 L905.1,515.7 L906.6,515.7 L908.1,515.7 L909.6,515.7 L911.1,515.7 L912.6,515.7 L914.1,515.7 L915.6,515.7 L917.1,515.7 L918.6,515.7 L920.1,515.7 L921.6,515.7 L923.1,515.7 L924.6,515.7 L926.1,515.7 L927.6,515.7 L929.0,515.7 L930.5,515.7 L932.0,515.7 L933.5,515.7 L935.0,515.7 L936.5,515.7 L938.0,515.7 L939.5,515.7 L941.0,515.7 L942.5,515.7 L944.0,515.7 L945.5,515.7 L947.0,515.7 L948.5,515.7 L950.0,515.7 L951.5,515.7 L953.0,515.7 L954.5,515.7 L956.0,515.7 L957.5,515.7 L959.0,515.7 L960.5,515.7 L962.0,515.7 L963.5,515.7 L965.0,515.7" stroke="#ff0000" stroke-width="4.0"/>
<path d="M98.3,515.7 L98.4,514.2 L98.4,512.7 L98.5,511.2 L98.5,509.7 L98.6,508.2 L98.7,506.7 L98.7,505.2 L98.8,503.7 L98.8,502.2 L98.9,500.7 L98.9,499.2 L99.0,497.7 L99.1,496.2 L99.1,494.7 L99.2,493.2 L99.2,491.7 L99.3,490.2 L99.3,488.7 L99.4,487.2 L99.4,485.7 L99.5,484.2 L99.6,482.7 L99.6,481.2 L99.7,479.7 L99.7,478.2 L99.8,476.7 L99.8,475.2 L99.9,473.7 L99.9,472.2 L100.0,470.7 L100.0,469.2 L100.1,467.7 L100.2,466.2 L100.2,464.7 L100.3,463.2 L100.3,461.7 L100.4,460.2 L100.4,458.7 L100.5,457.2 L100.6,455.7 L100.6,454.2 L100.7,452.7 L100.7,451.2 L100.8,449.7 L100.9,448.2 L100.9,446.7 L101.0,445.2 L101.0,443.7 L101.1,442.2 L101.2,440.7 L101.2,439.2 L101.3,437.7 L101.3,436.2 L101.4,434.7 L101.5,433.2 L101.5,431.7 L101.6,430.2 L101.7,428.7 L101.7,427.3 L101.8,425.8 L101.9,424.3 L102.0,422.8 L102.0,421.3 L102.1,419.8 L102.2,418.3 L102.2,416.8 L102.3,415.3 L102.4,413.8 L102.5,412.3 L102.5,410.8 L102.6,409.3 L102.7,407.8 L102.8,406.3 L102.9,404.8 L102.9,403.3 L103.0,401.8 L103.1,400.3 L103.2,398.8 L103.3,397.3 L103.4,395.8 L103.5,394.3 L103.5,392.8 L103.6,391.3 L103.7,389.8 L103.8,388.3 L103.9,386.8 L104.0,385.4 L104.1,383.9 L104.2,382.4 L104.3,380.9 L104.4,379.4 L104.5,377.9 L104.6,376.4 L104.7,374.9 L104.8,373.4 L104.9,371.9 L105.0,370.4 L105.2,368.9 L105.3,367.4 L105.4,365.9 L105.5,364.4 L105.6,362.9 L105.7,361.4 L105.9,360.0 L106.0,358.5 L106.1,357.0 L106.2,355.5 L106.4,354.0 L106.5,352.5 L106.6,351.0 L106.7,349.5 L106.9,348.0 L107.0,346.5 L107.2,345.0 L107.3,343.5 L107.4,342.0 L107.6,340.6 L107.7,339.1 L107.9,337.6 L108.0,336.1 L108.2,334.6 L108.3,333.1 L108.5,331.6 L108.6,330.1 L108.8,328.6 L109.0,327.1 L109.1,325.7 L109.3,324.2 L109.5,322.7 L109.6,321.2 L109.8,319.7 L110.0,318.2 L110.1,316.7 L110.3,315.2 L110.5,313.7 L110.7,312.3 L110.9,310.8 L111.1,309.3 L111.2,307.8 L111.4,306.3 L111.6,304.8 L111.8,303.3 L112.0,301.8 L112.2,300.4 L112.4,298.9 L112.6,297.4 L112.9,295.9 L113.1,294.4 L113.3,292.9 L113.5,291.4 L113.7,290.0 L113.9,288.5 L114.2,287.0 L114.4,285.5 L114.6,284.0 L114.9,282.5 L115.1,281.1 L115.3,279.6 L115.6,278.1 L115.8,276.6 L116.1,275.1 L116.3,273.6 L116.6,272.2 L116.8,270.7 L117.1,269.2 L117.3,267.7 L117.6,266.2 L117.9,264.7 L118.1,263.3 L118.4,261.8 L118.7,260.3 L118.9,258.8 L119.2,257.3 L119.5,255.9 L119.8,254.4 L120.1,252.9 L120.4,251.4 L120.7,249.9 L121.0,248.5 L121.3,247.0 L121.6,245.5 L121.9,244.0 L122.2,242.6 L122.6,241.1 L122.9,239.6 L123.3,238.2 L123.6,236.7 L124.0,235.3 L124.3,233.8 L124.7,232.3 L125.1,230.9 L125.5,229.5 L125.9,228.0 L126.3,226.6 L126.8,225.1 L127.2,223.7 L127.6,222.3 L128.1,220.9 L128.6,219.5 L129.1,218.1 L129.6,216.7 L130.1,215.3 L130.6,213.9 L131.2,212.5 L131.7,211.1 L132.3,209.8 L132.9,208.4 L133.5,207.0 L134.1,205.7 L134.8,204.4 L135.4,203.0 L136.1,201.7 L136.8,200.4 L137.5,199.1 L138.2,197.8 L139.0,196.5 L139.7,195.2 L140.5,193.9 L141.3,192.7 L142.2,191.4 L143.0,190.2 L143.9,189.0 L144.8,187.7 L145.7,186.5 L146.6,185.4 L147.6,184.2 L148.5,183.0 L149.5,181.9 L150.6,180.8 L151.6,179.7 L152.6,178.6 L153.7,177.5 L154.8,176.5 L155.9,175.5 L157.1,174.5 L158.2,173.6 L159.4,172.6 L160.6,171.7 L161.8,170.9 L163.1,170.0 L164.3,169.2 L165.6,168.5 L166.9,167.7 L168.2,167.0 L169.5,166.4 L170.9,165.7 L172.2,165.1 L173.6,164.6 L175.0,164.0 L176.4,163.5 L177.8,163.0 L179.2,162.6 L180.7,162.2 L182.1,161.8 L183.6,161.4 L185.0,161.0 L186.5,160.7 L188.0,160.4 L189.5,160.2 L191.0,159.9 L192.5,159.7 L194.0,159.5 L195.5,159.3 L197.0,159.1 L198.5,159.0 L200.0,158.9 L201.5,158.8 L203.0,158.7 L204.5,158.6 L206.0,158.6 L207.5,158.6 L209.0,158.6 L210.5,158.6 L212.0,158.6 L213.5,158.6 L215.0,158.7 L216.5,158.7 L218.0,158.8 L219.5,158.9 L221.0,159.0 L222.5,159.1 L224.0,159.3 L225.5,159.4 L227.0,159.6 L228.4,159.7 L229.9,159.9 L231.4,160.1 L232.9,160.3 L234.4,160.5 L235.9,160.7 L237.4,160.9 L238.8,161.2 L240.3,161.4 L241.8,161.6 L243.3,161.9 L244.8,162.1 L246.2,162.4 L247.7,162.7 L249.2,163.0 L250.7,163.2 L252.1,163.5 L253.6,163.8 L255.1,164.1 L256.5,164.4 L258.0,164.7 L259.5,165.1 L261.0,165.4 L262.4,165.7 L263.9,166.1 L265.3,166.4 L266.8,166.7 L268.3,167.1 L269.7,167.5 L271.2,167.8 L272.7,168.2 L274.1,168.6 L275.6,168.9 L277.0,169.3 L278.5,169.7 L279.9,170.1 L281.4,170.5 L282.8,170.9 L284.3,171.3 L285.7,171.7 L287.2,172.2 L288.6,172.6 L290.1,173.0 L291.5,173.4 L293.0,173.9 L294.4,174.3 L295.8,174.8 L297.3,175.2 L298.7,175.6 L300.2,176.1 L301.6,176.6 L303.0,177.0 L304.5,177.5 L305.9,178.0 L307.3,178.4 L308.7,178.9 L310.2,179.4 L311.6,179.9 L313.0,180.3 L314.4,180.8 L315.9,181.3 L317.3,181.8 L318.7,182.3 L320.1,182.8 L321.5,183.3 L323.0,183.8 L324.4,184.3 L325.8,184.8 L327.2,185.3 L328.6,185.9 L330.0,186.4 L331.4,186.9 L332.8,187.4 L334.2,187.9 L335.6,188.5 L337.0,189.0 L338.4,189.5 L339.8,190.1 L341.2,190.6 L342.6,191.2 L344.0,191.7 L345.4,192.3 L346.8,192.8 L348.2,193.4 L349.6,193.9 L351.0,194.5 L352.3,195.0 L353.7,195.6 L355.1,196.2 L356.5,196.7 L357.9,197.3 L359.3,197.9 L360.6,198.5 L362.0,199.0 L363.4,199.6 L364.8,200.2 L366.1,200.8 L367.5,201.4 L368.9,202.0 L370.3,202.6 L371.6,203.2 L373.0,203.8 L374.4,204.4 L375.7,205.0 L377.1,205.6 L378.5,206.2 L379.8,206.8 L381.2,207.4 L382.5,208.0 L383.9,208.6 L385.3,209.3 L386.6,209.9 L388.0,210.5 L389.3,211.1 L390.7,211.8 L392.0,212.4 L393.4,213.0 L394.7,213.7 L396.1,214.3 L397.4,214.9 L398.8,215.6 L400.1,216.2 L401.5,216.9 L402.8,217.5 L404.2,218.2 L405.5,218.8 L406.9,219.5 L408.2,220.1 L409.5,220.8 L410.9,221.4 L412.2,222.1 L413.5,222.8 L414.9,223.4 L416.2,224.1 L417.5,224.8 L418.9,225.5 L420.2,226.1 L421.5,226.8 L422.9,227.5 L424.2,228.2 L425.5,228.9 L426.8,229.5 L428.2,230.2 L429.5,230.9 L430.8,231.6 L432.1,232.3 L433.5,233.0 L434.8,233.7 L436.1,234.4 L437.4,235.1 L438.7,235.8 L440.1,236.5 L441.4,237.2 L442.7,237.9 L444.0,238.6 L445.3,239.3 L446.6,240.0 L447.9,240.7 L449.3,241.5 L450.6,242.2 L451.9,242.9 L453.2,243.6 L454.5,244.3 L455.8,245.1 L457.1,245.8 L458.4,246.5 L459.7,247.2 L461.0,248.0 L462.3,248.7 L463.6,249.4 L464.9,250.2 L466.2,250.9 L467.5,251.7 L468.8,252.4 L470.1,253.1 L471.4,253.9 L472.7,254.6 L474.0,255.4 L475.3,256.1 L476.6,256.9 L477.9,257.6 L479.2,258.4 L480.5,259.1 L481.8,259.9 L483.1,260.6 L484.4,261.4 L485.7,262.2 L486.9,262.9 L488.2,263.7 L489.5,264.4 L490.8,265.2 L492.1,266.0 L493.4,266.7 L494.7,267.5 L496.0,268.3 L497.2,269.0 L498.5,269.8 L499.8,270.6 L501.1,271.4 L502.4,272.1 L503.7,272.9 L504.9,273.7 L506.2,274.5 L507.5,275.3 L508.8,276.0 L510.0,276.8 L511.3,277.6 L512.6,278.4 L513.9,279.2 L515.2,280.0 L516.4,280.8 L517.7,281.5 L519.0,282.3 L520.3,283.1 L521.5,283.9 L522.8,284.7 L524.1,285.5 L525.3,286.3 L526.6,287.1 L527.9,287.9 L529.2,288.7 L530.4,289.5 L531.7,290.3 L533.0,291.1 L534.2,291.9 L535.5,292.7 L536.8,293.5 L538.0,294.3 L539.3,295.1 L540.6,295.9 L541.8,296.7 L543.1,297.6 L544.4,298.4 L545.6,299.2 L546.9,300.0 L548.2,300.8 L549.4,301.6 L550.7,302.4 L552.0,303.2 L553.2,304.1 L554.5,304.9 L555.7,305.7 L557.0,306.5 L558.3,307.3 L559.5,308.1 L560.8,309.0 L562.0,309.8 L563.3,310.6 L564.6,311.4 L565.8,312.2 L567.1,313.1 L568.3,313.9 L569.6,314.7 L570.9,315.5 L572.1,316.4 L573.4,317.2 L574.6,318.0 L575.9,318.8 L577.1,319.7 L578.4,320.5 L579.6,321.3 L580.9,322.2 L582.2,323.0 L583.4,323.8 L584.7,324.6 L585.9,325.5 L587.2,326.3 L588.4,327.1 L589.7,328.0 L590.9,328.8 L592.2,329.6 L593.4,330.5 L594.7,331.3 L596.0,332.1 L597.2,333.0 L598.5,333.8 L599.7,334.6 L601.0,335.5 L602.2,336.3 L603.5,337.1 L604.7,338.0 L606.0,338.8 L607.2,339.6 L608.5,340.5 L609.7,341.3 L611.0,342.2 L612.2,343.0 L613.5,343.8 L614.7,344.7 L616.0,345.5 L617.2,346.3 L618.5,347.2 L619.7,348.0 L621.0,348.9 L622.2,349.7 L623.5,350.5 L624.7,351.4 L626.0,352.2 L627.2,353.0 L628.5,353.9 L629.7,354.7 L631.0,355.6 L632.2,356.4 L633.5,357.2 L634.8,358.1 L636.0,358.9 L637.3,359.8 L638.5,360.6 L639.8,361.4 L641.0,362.3 L642.3,363.1 L643.5,363.9 L644.8,364.8 L646.0,365.6 L647.3,366.5 L648.5,367.3 L649.8,368.1 L651.0,369.0 L652.3,369.8 L653.5,370.6 L654.8,371.5 L656.0,372.3 L657.3,373.1 L658.5,374.0 L659.8,374.8 L661.0,375.6 L662.3,376.5 L663.5,377.3 L664.8,378.1 L666.0,379.0 L667.3,379.8 L668.5,380.6 L669.8,381.5 L671.0,382.3 L672.3,383.1 L673.6,384.0 L674.8,384.8 L676.1,385.6 L677.3,386.5 L678.6,387.3 L679.8,388.1 L681.1,389.0 L682.3,389.8 L683.6,390.6 L684.8,391.4 L686.1,392.3 L687.4,393.1 L688.6,393.9 L689.9,394.7 L691.1,395.6 L692.4,396.4 L693.6,397.2 L694.9,398.0 L696.2,398.8 L697.4,399.7 L698.7,400.5 L699.9,401.3 L701.2,402.1 L702.5,402.9 L703.7,403.7 L705.0,404.6 L706.3,405.4 L707.5,406.2 L708.8,407.0 L710.0,407.8 L711.3,408.6 L712.6,409.4 L713.8,410.2 L715.1,411.0 L716.4,411.8 L717.6,412.6 L718.9,413.4 L720.2,414.2 L721.5,415.0 L722.7,415.8 L724.0,416.6 L725.3,417.4 L726.5,418.2 L727.8,419.0 L729.1,419.8 L730.4,420.5 L731.6,421.3 L732.9,422.1 L734.2,422.9 L735.5,423.7 L736.8,424.4 L738.0,425.2 L739.3,426.0 L740.6,426.8 L741.9,427.5 L743.2,428.3 L744.5,429.1 L745.7,429.8 L747.0,430.6 L748.3,431.3 L749.6,432.1 L750.9,432.8 L752.2,433.6 L753.5,434.3 L754.8,435.1 L756.1,435.8 L757.4,436.6 L758.7,437.3 L760.0,438.1 L761.3,438.8 L762.6,439.5 L763.9,440.2 L765.2,441.0 L766.5,441.7 L767.8,442.4 L769.1,443.1 L770.4,443.9 L771.7,444.6 L773.0,445.3 L774.3,446.0 L775.7,446.7 L777.0,447.4 L778.3,448.1 L779.6,448.8 L780.9,449.5 L782.3,450.2 L783.6,450.9 L784.9,451.5 L786.2,452.2 L787.6,452.9 L788.9,453.6 L790.2,454.2 L791.5,454.9 L792.9,455.6 L794.2,456.2 L795.6,456.9 L796.9,457.6 L798.2,458.2 L799.6,458.9 L800.9,459.5 L802.3,460.1 L803.6,460.8 L805.0,461.4 L806.3,462.1 L807.7,462.7 L809.0,463.3 L810.4,463.9 L811.7,464.5 L813.1,465.2 L814.4,465.8 L815.8,466.4 L817.2,467.0 L818.5,467.6 L819.9,468.2 L821.3,468.8 L822.7,469.3 L824.0,469.9 L825.4,470.5 L826.8,471.1 L828.2,471.6 L829.5,472.2 L830.9,472.8 L832.3,473.3 L833.7,473.9 L835.1,474.4 L836.5,475.0 L837.9,475.5 L839.3,476.1 L840.7,476.6 L842.1,477.1 L843.5,477.6 L844.9,478.2 L846.3,478.7 L847.7,479.2 L849.1,479.7 L850.5,480.2 L851.9,480.7 L853.4,481.2 L854.8,481.7 L856.2,482.2 L857.6,482.6 L859.0,483.1 L860.5,483.6 L861.9,484.0 L863.3,484.5 L864.8,484.9 L866.2,485.4 L867.7,485.8 L869.1,486.3 L870.5,486.7 L872.0,487.2 L873.4,487.6 L874.9,488.0 L876.3,488.4 L877.8,488.9 L879.2,489.3 L880.7,489.7 L882.1,490.1 L883.6,490.5 L885.1,490.9 L886.5,491.3 L888.0,491.7 L889.4,492.1 L890.9,492.5 L892.4,492.9 L893.8,493.3 L895.3,493.7 L896.7,494.1 L898.2,494.5 L899.7,494.8 L901.1,495.2 L902.6,495.6 L904.1,496.0 L905.5,496.4 L907.0,496.7 L908.4,497.1 L909.9,497.5 L911.4,497.9 L912.8,498.2 L914.3,498.6 L915.7,499.0 L917.2,499.4 L918.7,499.7 L920.1,500.1 L921.6,500.5 L923.0,500.8 L924.5,501.2 L925.9,501.6 L927.4,502.0 L928.8,502.3 L930.3,502.7 L931.7,503.1 L933.2,503.5 L934.6,503.9 L936.1,504.2 L937.5,504.6 L938.9,505.0 L940.4,505.4 L941.8,505.8 L943.2,506.2 L944.6,506.7 L946.1,507.1 L947.5,507.6 L948.9,508.0 L950.3,508.5 L951.6,509.1 L953.0,509.6 L954.4,510.2 L955.8,510.7 L957.1,511.4 L958.4,512.0 L959.8,512.7 L961.1,513.4 L962.4,514.1 L963.7,514.9 L965.0,515.7" stroke="#000080" stroke-width="2.6"/>
<path d="M98.3,113.3 L98.4,114.8 L98.5,116.3 L98.5,117.8 L98.6,119.3 L98.7,120.8 L98.8,122.3 L98.9,123.8 L98.9,125.3 L99.0,126.7 L99.1,128.2 L99.2,129.7 L99.2,131.2 L99.3,132.7 L99.4,134.2 L99.5,135.7 L99.5,137.2 L99.6,138.7 L99.7,140.2 L99.7,141.7 L99.8,143.2 L99.9,144.7 L99.9,146.2 L100.0,147.7 L100.1,149.2 L100.1,150.7 L100.2,152.2 L100.3,153.7 L100.3,155.2 L100.4,156.7 L100.4,158.2 L100.5,159.7 L100.6,161.2 L100.6,162.7 L100.7,164.2 L100.8,165.7 L100.8,167.1 L100.9,168.6 L101.0,170.1 L101.0,171.6 L101.1,173.1 L101.1,174.6 L101.2,176.1 L101.3,177.6 L101.3,179.1 L101.4,180.6 L101.4,182.1 L101.5,183.6 L101.6,185.1 L101.6,186.6 L101.7,188.1 L101.8,189.6 L101.8,191.1 L101.9,192.6 L102.0,194.1 L102.0,195.6 L102.1,197.1 L102.2,198.6 L102.2,200.1 L102.3,201.6 L102.4,203.1 L102.4,204.6 L102.5,206.1 L102.6,207.6 L102.6,209.1 L102.7,210.6 L102.8,212.1 L102.8,213.6 L102.9,215.1 L103.0,216.6 L103.1,218.1 L103.1,219.6 L103.2,221.1 L103.3,222.6 L103.4,224.1 L103.5,225.6 L103.5,227.1 L103.6,228.6 L103.7,230.1 L103.8,231.5 L103.9,233.0 L104.0,234.5 L104.0,236.0 L104.1,237.5 L104.2,239.0 L104.3,240.5 L104.4,242.0 L104.5,243.5 L104.6,245.0 L104.7,246.5 L104.8,248.0 L104.9,249.5 L105.0,251.0 L105.1,252.5 L105.2,254.0 L105.3,255.5 L105.4,257.0 L105.5,258.5 L105.6,260.0 L105.7,261.5 L105.8,263.0 L105.9,264.4 L106.0,265.9 L106.2,267.4 L106.3,268.9 L106.4,270.4 L106.5,271.9 L106.7,273.4 L106.8,274.9 L106.9,276.4 L107.0,277.9 L107.2,279.4 L107.3,280.9 L107.4,282.4 L107.6,283.8 L107.7,285.3 L107.9,286.8 L108.0,288.3 L108.1,289.8 L108.3,291.3 L108.4,292.8 L108.6,294.3 L108.8,295.8 L108.9,297.3 L109.1,298.7 L109.2,300.2 L109.4,301.7 L109.6,303.2 L109.7,304.7 L109.9,306.2 L110.1,307.7 L110.3,309.2 L110.4,310.6 L110.6,312.1 L110.8,313.6 L111.0,315.1 L111.2,316.6 L111.4,318.1 L111.6,319.6 L111.8,321.0 L112.0,322.5 L112.2,324.0 L112.4,325.5 L112.6,327.0 L112.8,328.5 L113.0,329.9 L113.2,331.4 L113.4,332.9 L113.7,334.4 L113.9,335.9 L114.1,337.4 L114.3,338.8 L114.6,340.3 L114.8,341.8 L115.0,343.3 L115.3,344.8 L115.5,346.2 L115.8,347.7 L116.0,349.2 L116.2,350.7 L116.5,352.2 L116.7,353.6 L117.0,355.1 L117.2,356.6 L117.4,358.1 L117.7,359.5 L117.9,361.0 L118.2,362.5 L118.4,364.0 L118.7,365.5 L118.9,366.9 L119.1,368.4 L119.4,369.9 L119.6,371.4 L119.8,372.9 L120.1,374.3 L120.3,375.8 L120.5,377.3 L120.8,378.8 L121.0,380.3 L121.3,381.7 L121.5,383.2 L121.8,384.7 L122.1,386.2 L122.3,387.6 L122.6,389.1 L122.9,390.6 L123.2,392.0 L123.5,393.5 L123.8,395.0 L124.2,396.4 L124.5,397.9 L124.9,399.3 L125.2,400.8 L125.6,402.2 L126.0,403.7 L126.4,405.1 L126.8,406.6 L127.2,408.0 L127.7,409.4 L128.1,410.9 L128.6,412.3 L129.1,413.7 L129.6,415.1 L130.1,416.5 L130.6,417.9 L131.1,419.3 L131.7,420.7 L132.3,422.1 L132.9,423.5 L133.5,424.9 L134.1,426.2 L134.7,427.6 L135.3,428.9 L136.0,430.3 L136.7,431.6 L137.4,433.0 L138.1,434.3 L138.8,435.6 L139.5,436.9 L140.3,438.2 L141.1,439.5 L141.9,440.8 L142.7,442.0 L143.5,443.3 L144.3,444.6 L145.2,445.8 L146.0,447.0 L146.9,448.2 L147.8,449.4 L148.8,450.6 L149.7,451.8 L150.7,453.0 L151.7,454.1 L152.7,455.2 L153.7,456.3 L154.7,457.4 L155.8,458.4 L156.9,459.4 L158.0,460.4 L159.1,461.4 L160.3,462.3 L161.5,463.2 L162.7,464.1 L163.9,465.0 L165.1,465.8 L166.4,466.6 L167.7,467.4 L169.0,468.2 L170.3,468.9 L171.6,469.6 L172.9,470.3 L174.2,471.0 L175.6,471.6 L176.9,472.3 L178.3,472.9 L179.7,473.5 L181.1,474.0 L182.5,474.6 L183.9,475.1 L185.3,475.7 L186.7,476.2 L188.1,476.7 L189.5,477.2 L190.9,477.6 L192.4,478.1 L193.8,478.5 L195.3,479.0 L196.7,479.4 L198.1,479.8 L199.6,480.2 L201.0,480.6 L202.5,481.0 L204.0,481.4 L205.4,481.8 L206.9,482.2 L208.3,482.5 L209.8,482.9 L211.2,483.3 L212.7,483.6 L214.2,484.0 L215.6,484.3 L217.1,484.6 L218.5,485.0 L220.0,485.3 L221.5,485.6 L222.9,485.9 L224.4,486.2 L225.9,486.5 L227.3,486.8 L228.8,487.1 L230.3,487.4 L231.8,487.6 L233.2,487.9 L234.7,488.1 L236.2,488.4 L237.7,488.6 L239.1,488.9 L240.6,489.1 L242.1,489.3 L243.6,489.5 L245.0,489.8 L246.5,490.0 L248.0,490.2 L249.5,490.3 L251.0,490.5 L252.5,490.7 L253.9,490.9 L255.4,491.0 L256.9,491.2 L258.4,491.3 L259.9,491.5 L261.4,491.6 L262.9,491.8 L264.4,491.9 L265.8,492.0 L267.3,492.2 L268.8,492.3 L270.3,492.4 L271.8,492.5 L273.3,492.6 L274.8,492.7 L276.3,492.8 L277.8,492.9 L279.3,493.0 L280.8,493.1 L282.3,493.2 L283.8,493.3 L285.3,493.3 L286.8,493.4 L288.2,493.5 L289.7,493.6 L291.2,493.6 L292.7,493.7 L294.2,493.8 L295.7,493.8 L297.2,493.9 L298.7,493.9 L300.2,494.0 L301.7,494.1 L303.2,494.1 L304.7,494.2 L306.2,494.2 L307.7,494.3 L309.2,494.3 L310.7,494.4 L312.2,494.5 L313.7,494.5 L315.2,494.6 L316.7,494.6 L318.2,494.7 L319.7,494.7 L321.2,494.8 L322.7,494.8 L324.2,494.9 L325.7,494.9 L327.2,495.0 L328.7,495.0 L330.2,495.1 L331.7,495.1 L333.2,495.2 L334.7,495.2 L336.2,495.3 L337.7,495.3 L339.2,495.4 L340.7,495.4 L342.2,495.5 L343.7,495.5 L345.2,495.6 L346.7,495.6 L348.2,495.7 L349.7,495.7 L351.2,495.8 L352.7,495.8 L354.2,495.9 L355.7,495.9 L357.2,496.0 L358.7,496.0 L360.2,496.1 L361.7,496.1 L363.2,496.2 L364.7,496.2 L366.2,496.2 L367.6,496.3 L369.1,496.3 L370.6,496.4 L372.1,496.4 L373.6,496.5 L375.1,496.5 L376.6,496.6 L378.1,496.6 L379.6,496.6 L381.1,496.7 L382.6,496.7 L384.1,496.8 L385.6,496.8 L387.1,496.9 L388.6,496.9 L390.1,496.9 L391.6,497.0 L393.1,497.0 L394.6,497.1 L396.1,497.1 L397.6,497.1 L399.1,497.2 L400.6,497.2 L402.1,497.3 L403.6,497.3 L405.1,497.4 L406.6,497.4 L408.1,497.4 L409.6,497.5 L411.1,497.5 L412.6,497.6 L414.1,497.6 L415.6,497.6 L417.1,497.7 L418.6,497.7 L420.1,497.7 L421.6,497.8 L423.1,497.8 L424.6,497.9 L426.1,497.9 L427.6,497.9 L429.1,498.0 L430.6,498.0 L432.1,498.1 L433.6,498.1 L435.1,498.1 L436.6,498.2 L438.1,498.2 L439.6,498.2 L441.0,498.3 L442.5,498.3 L444.0,498.3 L445.5,498.4 L447.0,498.4 L448.5,498.5 L450.0,498.5 L451.5,498.5 L453.0,498.6 L454.5,498.6 L456.0,498.6 L457.5,498.7 L459.0,498.7 L460.5,498.7 L462.0,498.8 L463.5,498.8 L465.0,498.8 L466.5,498.9 L468.0,498.9 L469.5,498.9 L471.0,499.0 L472.5,499.0 L474.0,499.0 L475.5,499.1 L477.0,499.1 L478.5,499.2 L480.0,499.2 L481.5,499.2 L483.0,499.3 L484.5,499.3 L486.0,499.3 L487.5,499.4 L489.0,499.4 L490.5,499.4 L492.0,499.5 L493.5,499.5 L495.0,499.5 L496.5,499.5 L498.0,499.6 L499.5,499.6 L501.0,499.6 L502.5,499.7 L504.0,499.7 L505.5,499.7 L507.0,499.8 L508.5,499.8 L509.9,499.8 L511.4,499.9 L512.9,499.9 L514.4,499.9 L515.9,500.0 L517.4,500.0 L518.9,500.0 L520.4,500.1 L521.9,500.1 L523.4,500.1 L524.9,500.2 L526.4,500.2 L527.9,500.2 L529.4,500.3 L530.9,500.3 L532.4,500.3 L533.9,500.3 L535.4,500.4 L536.9,500.4 L538.4,500.4 L539.9,500.5 L541.4,500.5 L542.9,500.5 L544.4,500.6 L545.9,500.6 L547.4,500.6 L548.9,500.7 L550.4,500.7 L551.9,500.7 L553.4,500.8 L554.9,500.8 L556.4,500.8 L557.9,500.8 L559.4,500.9 L560.9,500.9 L562.4,500.9 L563.9,501.0 L565.4,501.0 L566.9,501.0 L568.4,501.1 L569.9,501.1 L571.4,501.1 L572.9,501.2 L574.4,501.2 L575.8,501.2 L577.3,501.2 L578.8,501.3 L580.3,501.3 L581.8,501.3 L583.3,501.4 L584.8,501.4 L586.3,501.4 L587.8,501.5 L589.3,501.5 L590.8,501.5 L592.3,501.6 L593.8,501.6 L595.3,501.6 L596.8,501.7 L598.3,501.7 L599.8,501.7 L601.3,501.7 L602.8,501.8 L604.3,501.8 L605.8,501.8 L607.3,501.9 L608.8,501.9 L610.3,501.9 L611.8,502.0 L613.3,502.0 L614.8,502.0 L616.3,502.1 L617.8,502.1 L619.3,502.1 L620.8,502.2 L622.3,502.2 L623.8,502.2 L625.3,502.3 L626.8,502.3 L628.3,502.3 L629.8,502.4 L631.3,502.4 L632.8,502.4 L634.3,502.5 L635.8,502.5 L637.3,502.5 L638.7,502.6 L640.2,502.6 L641.7,502.6 L643.2,502.7 L644.7,502.7 L646.2,502.7 L647.7,502.7 L649.2,502.8 L650.7,502.8 L652.2,502.9 L653.7,502.9 L655.2,502.9 L656.7,503.0 L658.2,503.0 L659.7,503.0 L661.2,503.1 L662.7,503.1 L664.2,503.1 L665.7,503.2 L667.2,503.2 L668.7,503.2 L670.2,503.3 L671.7,503.3 L673.2,503.3 L674.7,503.4 L676.2,503.4 L677.7,503.4 L679.2,503.5 L680.7,503.5 L682.2,503.5 L683.7,503.6 L685.2,503.6 L686.7,503.7 L688.2,503.7 L689.7,503.7 L691.2,503.8 L692.7,503.8 L694.2,503.8 L695.7,503.9 L697.2,503.9 L698.7,503.9 L700.2,504.0 L701.7,504.0 L703.2,504.1 L704.6,504.1 L706.1,504.1 L707.6,504.2 L709.1,504.2 L710.6,504.3 L712.1,504.3 L713.6,504.3 L715.1,504.4 L716.6,504.4 L718.1,504.4 L719.6,504.5 L721.1,504.5 L722.6,504.6 L724.1,504.6 L725.6,504.6 L727.1,504.7 L728.6,504.7 L730.1,504.8 L731.6,504.8 L733.1,504.9 L734.6,504.9 L736.1,504.9 L737.6,505.0 L739.1,505.0 L740.6,505.1 L742.1,505.1 L743.6,505.2 L745.1,505.2 L746.6,505.2 L748.1,505.3 L749.6,505.3 L751.1,505.4 L752.6,505.4 L754.1,505.5 L755.6,505.5 L757.1,505.6 L758.6,505.6 L760.1,505.7 L761.6,505.7 L763.1,505.8 L764.6,505.8 L766.1,505.9 L767.6,505.9 L769.0,506.0 L770.5,506.0 L772.0,506.1 L773.5,506.1 L775.0,506.2 L776.5,506.2 L778.0,506.3 L779.5,506.4 L781.0,506.4 L782.5,506.5 L784.0,506.5 L785.5,506.6 L787.0,506.7 L788.5,506.7 L790.0,506.8 L791.5,506.8 L793.0,506.9 L794.5,507.0 L796.0,507.0 L797.5,507.1 L799.0,507.2 L800.5,507.2 L802.0,507.3 L803.5,507.4 L805.0,507.4 L806.5,507.5 L808.0,507.6 L809.5,507.7 L811.0,507.7 L812.5,507.8 L814.0,507.9 L815.5,508.0 L817.0,508.0 L818.5,508.1 L820.0,508.2 L821.5,508.3 L823.0,508.4 L824.4,508.4 L825.9,508.5 L827.4,508.6 L828.9,508.7 L830.4,508.8 L831.9,508.9 L833.4,509.0 L834.9,509.1 L836.4,509.2 L837.9,509.2 L839.4,509.3 L840.9,509.4 L842.4,509.5 L843.9,509.6 L845.4,509.7 L846.9,509.8 L848.4,509.9 L849.9,510.0 L851.4,510.1 L852.9,510.2 L854.4,510.3 L855.9,510.4 L857.4,510.5 L858.9,510.6 L860.4,510.7 L861.9,510.8 L863.3,510.9 L864.8,511.0 L866.3,511.0 L867.8,511.1 L869.3,511.2 L870.8,511.3 L872.3,511.3 L873.8,511.4 L875.3,511.4 L876.8,511.5 L878.3,511.5 L879.8,511.6 L881.2,511.6 L882.7,511.6 L884.2,511.7 L885.7,511.7 L887.2,511.7 L888.7,511.7 L890.2,511.8 L891.7,511.8 L893.2,511.8 L894.7,511.8 L896.2,511.8 L897.6,511.8 L899.1,511.9 L900.6,511.9 L902.1,511.9 L903.6,512.0 L905.1,512.0 L906.7,512.0 L908.2,512.1 L909.7,512.1 L911.2,512.2 L912.7,512.2 L914.2,512.3 L915.7,512.3 L917.2,512.4 L918.8,512.4 L920.3,512.5 L921.8,512.5 L923.3,512.5 L924.8,512.6 L926.3,512.6 L927.8,512.6 L929.4,512.6 L930.9,512.5 L932.4,512.5 L933.9,512.4 L935.4,512.4 L936.9,512.3 L938.3,512.2 L939.8,512.0 L941.3,511.9 L942.8,511.7 L944.3,511.5 L945.7,511.2 L947.2,511.0 L948.6,510.7 L950.1,510.3 L951.5,510.0 L952.9,509.6 L954.3,509.1 L955.7,508.6 L957.1,508.1 L958.5,507.5 L959.8,506.9 L961.2,506.2 L962.5,505.4 L963.7,504.6 L965.0,503.7" stroke="#ffa500" stroke-width="2.3"/>
<path d="M98.3,113.3 L99.8,113.3 L101.3,113.4 L102.8,113.4 L104.4,113.5 L105.9,113.5 L107.4,113.6 L108.9,113.6 L110.4,113.7 L111.9,113.7 L113.4,113.8 L114.9,113.9 L116.4,114.0 L117.9,114.0 L119.4,114.1 L120.9,114.2 L122.4,114.3 L124.0,114.4 L125.5,114.5 L127.0,114.6 L128.5,114.7 L130.0,114.9 L131.5,115.0 L133.0,115.1 L134.5,115.2 L136.0,115.4 L137.5,115.5 L139.0,115.7 L140.4,115.8 L141.9,115.9 L143.4,116.1 L144.9,116.3 L146.4,116.4 L147.9,116.6 L149.4,116.8 L150.9,116.9 L152.4,117.1 L153.9,117.3 L155.4,117.5 L156.9,117.7 L158.3,117.9 L159.8,118.1 L161.3,118.3 L162.8,118.5 L164.3,118.7 L165.8,118.9 L167.3,119.1 L168.7,119.3 L170.2,119.5 L171.7,119.8 L173.2,120.0 L174.7,120.2 L176.1,120.5 L177.6,120.7 L179.1,121.0 L180.6,121.2 L182.1,121.5 L183.5,121.7 L185.0,122.0 L186.5,122.3 L188.0,122.5 L189.4,122.8 L190.9,123.1 L192.4,123.4 L193.8,123.6 L195.3,123.9 L196.8,124.2 L198.2,124.5 L199.7,124.8 L201.2,125.1 L202.6,125.4 L204.1,125.7 L205.6,126.0 L207.0,126.4 L208.5,126.7 L210.0,127.0 L211.4,127.3 L212.9,127.7 L214.3,128.0 L215.8,128.3 L217.2,128.7 L218.7,129.0 L220.2,129.4 L221.6,129.7 L223.1,130.1 L224.5,130.4 L226.0,130.8 L227.4,131.1 L228.9,131.5 L230.3,131.9 L231.8,132.2 L233.2,132.6 L234.7,133.0 L236.1,133.4 L237.6,133.8 L239.0,134.2 L240.4,134.6 L241.9,134.9 L243.3,135.3 L244.8,135.8 L246.2,136.2 L247.7,136.6 L249.1,137.0 L250.5,137.4 L252.0,137.8 L253.4,138.2 L254.8,138.7 L256.3,139.1 L257.7,139.5 L259.1,139.9 L260.6,140.4 L262.0,140.8 L263.4,141.3 L264.9,141.7 L266.3,142.2 L267.7,142.6 L269.1,143.1 L270.6,143.5 L272.0,144.0 L273.4,144.4 L274.8,144.9 L276.3,145.4 L277.7,145.9 L279.1,146.3 L280.5,146.8 L281.9,147.3 L283.4,147.8 L284.8,148.3 L286.2,148.7 L287.6,149.2 L289.0,149.7 L290.4,150.2 L291.8,150.7 L293.3,151.2 L294.7,151.7 L296.1,152.2 L297.5,152.8 L298.9,153.3 L300.3,153.8 L301.7,154.3 L303.1,154.8 L304.5,155.4 L305.9,155.9 L307.3,156.4 L308.7,156.9 L310.1,157.5 L311.5,158.0 L312.9,158.6 L314.3,159.1 L315.7,159.6 L317.1,160.2 L318.5,160.7 L319.9,161.3 L321.3,161.9 L322.7,162.4 L324.1,163.0 L325.4,163.5 L326.8,164.1 L328.2,164.7 L329.6,165.2 L331.0,165.8 L332.4,166.4 L333.7,167.0 L335.1,167.5 L336.5,168.1 L337.9,168.7 L339.3,169.3 L340.6,169.9 L342.0,170.5 L343.4,171.1 L344.8,171.7 L346.1,172.3 L347.5,172.9 L348.9,173.5 L350.3,174.1 L351.6,174.7 L353.0,175.3 L354.4,175.9 L355.7,176.5 L357.1,177.1 L358.5,177.8 L359.8,178.4 L361.2,179.0 L362.5,179.6 L363.9,180.2 L365.3,180.9 L366.6,181.5 L368.0,182.1 L369.3,182.8 L370.7,183.4 L372.0,184.1 L373.4,184.7 L374.8,185.3 L376.1,186.0 L377.5,186.6 L378.8,187.3 L380.2,187.9 L381.5,188.6 L382.8,189.2 L384.2,189.9 L385.5,190.6 L386.9,191.2 L388.2,191.9 L389.6,192.6 L390.9,193.2 L392.2,193.9 L393.6,194.6 L394.9,195.2 L396.3,195.9 L397.6,196.6 L398.9,197.3 L400.3,197.9 L401.6,198.6 L402.9,199.3 L404.3,200.0 L405.6,200.7 L406.9,201.4 L408.3,202.1 L409.6,202.8 L410.9,203.5 L412.2,204.2 L413.6,204.9 L414.9,205.6 L416.2,206.3 L417.5,207.0 L418.9,207.7 L420.2,208.4 L421.5,209.1 L422.8,209.8 L424.1,210.5 L425.5,211.2 L426.8,211.9 L428.1,212.7 L429.4,213.4 L430.7,214.1 L432.0,214.8 L433.3,215.5 L434.7,216.3 L436.0,217.0 L437.3,217.7 L438.6,218.5 L439.9,219.2 L441.2,219.9 L442.5,220.7 L443.8,221.4 L445.1,222.1 L446.4,222.9 L447.7,223.6 L449.0,224.4 L450.3,225.1 L451.6,225.9 L452.9,226.6 L454.2,227.3 L455.5,228.1 L456.8,228.8 L458.1,229.6 L459.4,230.4 L460.7,231.1 L462.0,231.9 L463.3,232.6 L464.6,233.4 L465.9,234.1 L467.2,234.9 L468.5,235.7 L469.8,236.4 L471.1,237.2 L472.4,238.0 L473.6,238.7 L474.9,239.5 L476.2,240.3 L477.5,241.1 L478.8,241.8 L480.1,242.6 L481.4,243.4 L482.7,244.2 L483.9,244.9 L485.2,245.7 L486.5,246.5 L487.8,247.3 L489.1,248.1 L490.3,248.8 L491.6,249.6 L492.9,250.4 L494.2,251.2 L495.5,252.0 L496.7,252.8 L498.0,253.6 L499.3,254.4 L500.6,255.2 L501.8,256.0 L503.1,256.8 L504.4,257.6 L505.6,258.4 L506.9,259.2 L508.2,260.0 L509.5,260.8 L510.7,261.6 L512.0,262.4 L513.3,263.2 L514.5,264.0 L515.8,264.8 L517.1,265.6 L518.3,266.4 L519.6,267.2 L520.9,268.0 L522.1,268.8 L523.4,269.6 L524.6,270.4 L525.9,271.2 L527.2,272.1 L528.4,272.9 L529.7,273.7 L531.0,274.5 L532.2,275.3 L533.5,276.1 L534.7,277.0 L536.0,277.8 L537.2,278.6 L538.5,279.4 L539.8,280.2 L541.0,281.1 L542.3,281.9 L543.5,282.7 L544.8,283.5 L546.0,284.4 L547.3,285.2 L548.5,286.0 L549.8,286.8 L551.0,287.7 L552.3,288.5 L553.5,289.3 L554.8,290.2 L556.0,291.0 L557.3,291.8 L558.5,292.7 L559.8,293.5 L561.0,294.3 L562.3,295.2 L563.5,296.0 L564.8,296.8 L566.0,297.7 L567.3,298.5 L568.5,299.3 L569.7,300.2 L571.0,301.0 L572.2,301.8 L573.5,302.7 L574.7,303.5 L576.0,304.4 L577.2,305.2 L578.4,306.0 L579.7,306.9 L580.9,307.7 L582.2,308.6 L583.4,309.4 L584.6,310.2 L585.9,311.1 L587.1,311.9 L588.4,312.8 L589.6,313.6 L590.8,314.5 L592.1,315.3 L593.3,316.2 L594.5,317.0 L595.8,317.8 L597.0,318.7 L598.3,319.5 L599.5,320.4 L600.7,321.2 L602.0,322.1 L603.2,322.9 L604.4,323.8 L605.7,324.6 L606.9,325.5 L608.1,326.3 L609.4,327.2 L610.6,328.0 L611.8,328.9 L613.1,329.7 L614.3,330.6 L615.6,331.4 L616.8,332.3 L618.0,333.1 L619.3,334.0 L620.5,334.8 L621.7,335.7 L623.0,336.5 L624.2,337.4 L625.4,338.2 L626.7,339.1 L627.9,339.9 L629.1,340.8 L630.4,341.6 L631.6,342.5 L632.8,343.3 L634.1,344.2 L635.3,345.0 L636.5,345.9 L637.8,346.7 L639.0,347.6 L640.2,348.4 L641.5,349.3 L642.7,350.1 L643.9,351.0 L645.2,351.8 L646.4,352.7 L647.6,353.5 L648.9,354.4 L650.1,355.2 L651.3,356.1 L652.6,356.9 L653.8,357.8 L655.0,358.6 L656.3,359.5 L657.5,360.3 L658.8,361.2 L660.0,362.0 L661.2,362.9 L662.5,363.7 L663.7,364.6 L664.9,365.4 L666.2,366.3 L667.4,367.1 L668.7,368.0 L669.9,368.8 L671.1,369.7 L672.4,370.5 L673.6,371.4 L674.9,372.2 L676.1,373.1 L677.3,373.9 L678.6,374.8 L679.8,375.6 L681.1,376.5 L682.3,377.3 L683.5,378.2 L684.8,379.0 L686.0,379.8 L687.3,380.7 L688.5,381.5 L689.8,382.4 L691.0,383.2 L692.2,384.1 L693.5,384.9 L694.7,385.7 L696.0,386.6 L697.2,387.4 L698.5,388.3 L699.7,389.1 L701.0,389.9 L702.2,390.8 L703.5,391.6 L704.7,392.4 L706.0,393.3 L707.2,394.1 L708.5,394.9 L709.7,395.8 L711.0,396.6 L712.2,397.4 L713.5,398.3 L714.8,399.1 L716.0,399.9 L717.3,400.7 L718.5,401.6 L719.8,402.4 L721.0,403.2 L722.3,404.0 L723.6,404.9 L724.8,405.7 L726.1,406.5 L727.3,407.3 L728.6,408.1 L729.9,408.9 L731.1,409.8 L732.4,410.6 L733.7,411.4 L734.9,412.2 L736.2,413.0 L737.5,413.8 L738.7,414.6 L740.0,415.4 L741.3,416.2 L742.6,417.0 L743.8,417.8 L745.1,418.6 L746.4,419.4 L747.7,420.2 L748.9,421.0 L750.2,421.8 L751.5,422.6 L752.8,423.3 L754.0,424.1 L755.3,424.9 L756.6,425.7 L757.9,426.5 L759.2,427.2 L760.5,428.0 L761.7,428.8 L763.0,429.6 L764.3,430.3 L765.6,431.1 L766.9,431.9 L768.2,432.6 L769.5,433.4 L770.8,434.2 L772.1,434.9 L773.4,435.7 L774.7,436.4 L776.0,437.2 L777.3,437.9 L778.6,438.7 L779.9,439.4 L781.2,440.1 L782.5,440.9 L783.8,441.6 L785.1,442.4 L786.4,443.1 L787.7,443.8 L789.0,444.5 L790.3,445.3 L791.6,446.0 L793.0,446.7 L794.3,447.4 L795.6,448.1 L796.9,448.9 L798.2,449.6 L799.5,450.3 L800.9,451.0 L802.2,451.7 L803.5,452.4 L804.8,453.1 L806.2,453.8 L807.5,454.4 L808.8,455.1 L810.2,455.8 L811.5,456.5 L812.8,457.2 L814.2,457.8 L815.5,458.5 L816.8,459.2 L818.2,459.8 L819.5,460.5 L820.9,461.2 L822.2,461.8 L823.5,462.5 L824.9,463.1 L826.2,463.8 L827.6,464.4 L828.9,465.0 L830.3,465.7 L831.7,466.3 L833.0,466.9 L834.4,467.5 L835.7,468.2 L837.1,468.8 L838.4,469.4 L839.8,470.0 L841.2,470.6 L842.5,471.2 L843.9,471.8 L845.3,472.4 L846.6,473.0 L848.0,473.5 L849.4,474.1 L850.8,474.7 L852.1,475.3 L853.5,475.8 L854.9,476.4 L856.3,476.9 L857.7,477.5 L859.1,478.0 L860.4,478.6 L861.8,479.1 L863.2,479.7 L864.6,480.2 L866.0,480.7 L867.4,481.2 L868.8,481.8 L870.2,482.3 L871.6,482.8 L873.0,483.3 L874.4,483.8 L875.8,484.3 L877.2,484.8 L878.6,485.2 L880.0,485.7 L881.4,486.2 L882.9,486.7 L884.3,487.1 L885.7,487.6 L887.1,488.0 L888.5,488.5 L889.9,488.9 L891.4,489.4 L892.8,489.8 L894.2,490.2 L895.7,490.6 L897.1,491.1 L898.5,491.5 L900.0,491.9 L901.4,492.3 L902.8,492.7 L904.3,493.1 L905.7,493.4 L907.2,493.8 L908.6,494.2 L910.1,494.6 L911.5,494.9 L913.0,495.3 L914.4,495.6 L915.9,496.0 L917.3,496.3 L918.8,496.6 L920.2,496.9 L921.7,497.3 L923.2,497.6 L924.6,497.9 L926.1,498.2 L927.6,498.5 L929.0,498.8 L930.5,499.0 L932.0,499.3 L933.5,499.6 L935.0,499.9 L936.4,500.1 L937.9,500.4 L939.4,500.6 L940.9,500.8 L942.4,501.1 L943.9,501.3 L945.4,501.5 L946.9,501.7 L948.4,501.9 L949.9,502.1 L951.4,502.3 L952.9,502.5 L954.4,502.7 L955.9,502.8 L957.4,503.0 L958.9,503.2 L960.4,503.3 L962.0,503.4 L963.5,503.6 L965.0,503.7" stroke="#ff0000" stroke-width="4.0"/>
</g>
<g fill="none">
<path d="M407.2,46.5 H475.1" stroke="#000080" stroke-width="2.6"/>
<path d="M407.2,86.0 H475.1" stroke="#ffa500" stroke-width="2.3"/>
<path d="M407.2,125.3 H475.1" stroke="#ff0000" stroke-width="4.0"/>
<path d="M639.8,46.5 H707.7" stroke="#000080" stroke-width="2.6"/>
<path d="M639.8,86.0 H707.7" stroke="#ffa500" stroke-width="2.3"/>
<path d="M639.8,125.3 H707.7" stroke="#ff0000" stroke-width="4.0"/>
<path d="M868.4,46.5 H936.3" stroke="#000080" stroke-width="2.6"/>
<path d="M868.4,86.0 H936.3" stroke="#ffa500" stroke-width="2.3"/>
<path d="M868.4,125.3 H936.3" stroke="#ff0000" stroke-width="4.0"/>
</g>
<rect x="98.30" y="16.50" width="866.70" height="499.20" fill="none" stroke="#000" stroke-width="2.7"/>
<g>
<text x="83.0" y="520.9" text-anchor="end" textLength="15.0" lengthAdjust="spacingAndGlyphs">0</text>
<text x="83.0" y="449.6" text-anchor="end" textLength="37.6" lengthAdjust="spacingAndGlyphs">0.2</text>
<text x="83.0" y="378.3" text-anchor="end" textLength="37.6" lengthAdjust="spacingAndGlyphs">0.4</text>
<text x="83.0" y="307.0" text-anchor="end" textLength="37.6" lengthAdjust="spacingAndGlyphs">0.6</text>
<text x="83.0" y="235.6" text-anchor="end" textLength="37.6" lengthAdjust="spacingAndGlyphs">0.8</text>
<text x="83.0" y="164.3" text-anchor="end" textLength="15.0" lengthAdjust="spacingAndGlyphs">1</text>
<text x="83.0" y="93.0" text-anchor="end" textLength="37.6" lengthAdjust="spacingAndGlyphs">1.2</text>
<text x="83.0" y="21.7" text-anchor="end" textLength="37.6" lengthAdjust="spacingAndGlyphs">1.4</text>
<text x="96.7" y="547.6" text-anchor="middle" textLength="15.0" lengthAdjust="spacingAndGlyphs">0</text>
<text x="270.0" y="547.6" text-anchor="middle" textLength="37.6" lengthAdjust="spacingAndGlyphs">0.2</text>
<text x="443.4" y="547.6" text-anchor="middle" textLength="37.6" lengthAdjust="spacingAndGlyphs">0.4</text>
<text x="616.7" y="547.6" text-anchor="middle" textLength="37.6" lengthAdjust="spacingAndGlyphs">0.6</text>
<text x="790.1" y="547.6" text-anchor="middle" textLength="37.6" lengthAdjust="spacingAndGlyphs">0.8</text>
<text x="963.4" y="547.6" text-anchor="middle" textLength="15.0" lengthAdjust="spacingAndGlyphs">1</text>
<text y="586.8"><tspan x="376.0" textLength="171.0" lengthAdjust="spacingAndGlyphs">Dimensionless</tspan> <tspan x="556.6" textLength="129.0" lengthAdjust="spacingAndGlyphs">coordinate</tspan></text>
<text transform="translate(20.4,446.9) rotate(-90)"><tspan x="0" textLength="171.0" lengthAdjust="spacingAndGlyphs">Dimensionless</tspan> <tspan x="181.0" textLength="89.6" lengthAdjust="spacingAndGlyphs">current</tspan> <tspan x="280.5" textLength="85.6" lengthAdjust="spacingAndGlyphs">density</tspan></text>
<text y="52.8"><tspan class="it" x="337.9" textLength="10" lengthAdjust="spacingAndGlyphs">j</tspan><tspan class="tl" x="336.7" dy="-6.1">˜</tspan><tspan class="sub" x="346.4" dy="10.7" textLength="43.0" lengthAdjust="spacingAndGlyphs">drift</tspan></text>
<text y="92.4"><tspan class="it" x="347.7" textLength="10" lengthAdjust="spacingAndGlyphs">j</tspan><tspan class="tl" x="346.5" dy="-6.1">˜</tspan><tspan class="sub" x="356.4" dy="10.7" textLength="32.7" lengthAdjust="spacingAndGlyphs">diff</tspan></text>
<text y="132.0"><tspan class="it" x="381.5" textLength="10" lengthAdjust="spacingAndGlyphs">j</tspan><tspan class="tl" x="380.3" dy="-6.1">˜</tspan></text>
<text transform="translate(318.4,0) rotate(-90)"><tspan class="itb" x="-135.7" y="2.0" textLength="10.4" lengthAdjust="spacingAndGlyphs">t</tspan> <tspan class="eq" x="-118.5" y="4.8" textLength="20.3" lengthAdjust="spacingAndGlyphs">=</tspan> <tspan x="-91.5" y="1.0">10</tspan><tspan class="itb" x="-64.2" y="2.0" textLength="10.4" lengthAdjust="spacingAndGlyphs">t</tspan><tspan class="sub" x="-48.8" y="5.0">0</tspan></text>
<text y="52.8"><tspan class="it" x="570.5" textLength="10" lengthAdjust="spacingAndGlyphs">j</tspan><tspan class="tl" x="569.3" dy="-6.1">˜</tspan><tspan class="sub" x="579.0" dy="10.7" textLength="43.0" lengthAdjust="spacingAndGlyphs">drift</tspan></text>
<text y="92.4"><tspan class="it" x="580.3" textLength="10" lengthAdjust="spacingAndGlyphs">j</tspan><tspan class="tl" x="579.1" dy="-6.1">˜</tspan><tspan class="sub" x="589.0" dy="10.7" textLength="32.7" lengthAdjust="spacingAndGlyphs">diff</tspan></text>
<text y="132.0"><tspan class="it" x="614.1" textLength="10" lengthAdjust="spacingAndGlyphs">j</tspan><tspan class="tl" x="612.9" dy="-6.1">˜</tspan></text>
<text transform="translate(551.0,0) rotate(-90)"><tspan class="itb" x="-135.7" y="2.0" textLength="10.4" lengthAdjust="spacingAndGlyphs">t</tspan> <tspan class="eq" x="-118.5" y="4.8" textLength="20.3" lengthAdjust="spacingAndGlyphs">=</tspan> <tspan x="-91.5" y="1.0">20</tspan><tspan class="itb" x="-64.2" y="2.0" textLength="10.4" lengthAdjust="spacingAndGlyphs">t</tspan><tspan class="sub" x="-48.8" y="5.0">0</tspan></text>
<text y="52.8"><tspan class="it" x="799.1" textLength="10" lengthAdjust="spacingAndGlyphs">j</tspan><tspan class="tl" x="797.9" dy="-6.1">˜</tspan><tspan class="sub" x="807.6" dy="10.7" textLength="43.0" lengthAdjust="spacingAndGlyphs">drift</tspan></text>
<text y="92.4"><tspan class="it" x="808.9" textLength="10" lengthAdjust="spacingAndGlyphs">j</tspan><tspan class="tl" x="807.7" dy="-6.1">˜</tspan><tspan class="sub" x="817.6" dy="10.7" textLength="32.7" lengthAdjust="spacingAndGlyphs">diff</tspan></text>
<text y="132.0"><tspan class="it" x="842.7" textLength="10" lengthAdjust="spacingAndGlyphs">j</tspan><tspan class="tl" x="841.5" dy="-6.1">˜</tspan></text>
<text transform="translate(779.7,147.6) rotate(-90)" textLength="123" lengthAdjust="spacingAndGlyphs">stationary</text>
</g>
</svg>
</body></html>
